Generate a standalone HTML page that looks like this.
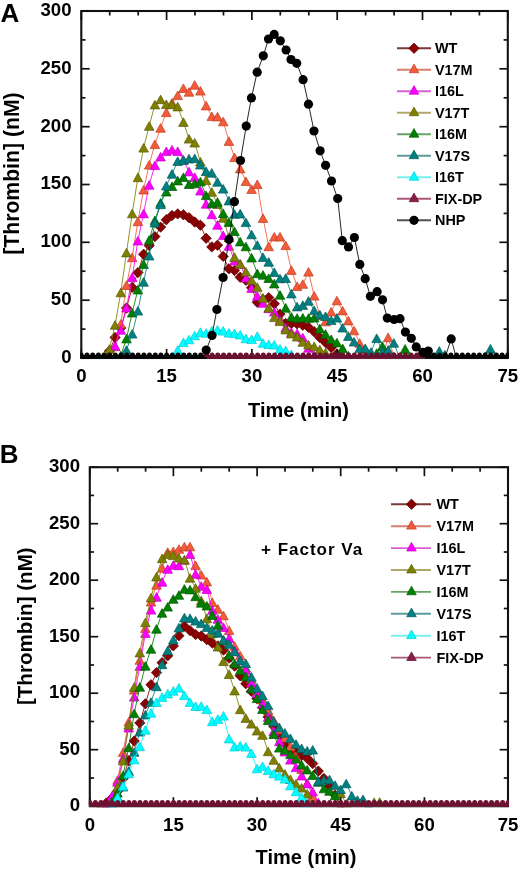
<!DOCTYPE html>
<html><head><meta charset="utf-8"><style>
html,body{margin:0;padding:0;background:#fff;}
svg{display:block;filter:blur(0.35px);}
text{font-family:"Liberation Sans", sans-serif;font-weight:bold;fill:#000;}
.tl{font-size:18.6px;}
.lg{font-size:14.4px;}
.pl{font-size:26px;}
.at{font-size:20px;}
.fv{font-size:17px;letter-spacing:1.0px;}
</style></head><body>
<svg width="520" height="871" viewBox="0 0 520 871">
<rect width="520" height="871" fill="#fff"/>
<defs><clipPath id="ca"><rect x="80.3" y="5" width="428.5" height="354"/></clipPath><clipPath id="cb"><rect x="88.8" y="461.2" width="420.2" height="346.00000000000006"/></clipPath></defs><text x="71.5" y="362.8" text-anchor="end" class="tl">0</text><text x="71.5" y="305.0" text-anchor="end" class="tl">50</text><text x="71.5" y="247.1" text-anchor="end" class="tl">100</text><text x="71.5" y="189.3" text-anchor="end" class="tl">150</text><text x="71.5" y="131.5" text-anchor="end" class="tl">200</text><text x="71.5" y="73.6" text-anchor="end" class="tl">250</text><text x="71.5" y="15.8" text-anchor="end" class="tl">300</text><text x="81.3" y="382" text-anchor="middle" class="tl">0</text><text x="166.6" y="382" text-anchor="middle" class="tl">15</text><text x="251.9" y="382" text-anchor="middle" class="tl">30</text><text x="337.2" y="382" text-anchor="middle" class="tl">45</text><text x="422.5" y="382" text-anchor="middle" class="tl">60</text><text x="507.8" y="382" text-anchor="middle" class="tl">75</text><rect x="81.3" y="11" width="426.5" height="347" fill="none" stroke="#111" stroke-width="2.1"/><g clip-path="url(#ca)"><path d="M81.0 358.0L86.7 358.0L92.4 358.0L98.1 358.0L103.7 358.0L109.4 351.1L115.1 337.5L120.8 328.0L126.5 308.0L132.2 287.4L137.9 272.6L143.6 254.3L149.2 245.6L154.9 236.6L160.6 227.1L166.3 219.7L172.0 215.5L177.7 213.9L183.4 214.8L189.0 217.7L194.7 222.0L200.4 225.2L206.1 238.3L211.8 246.9L217.5 245.2L223.2 256.4L228.9 268.8L234.5 270.5L240.2 277.3L245.9 280.3L251.6 287.7L257.3 302.3L263.0 299.6L268.7 297.6L274.3 303.8L280.0 314.1L285.7 323.5L291.4 323.5L297.1 323.8L302.8 325.2L308.5 327.3L314.2 331.7L319.8 337.5L325.5 342.5L331.2 347.5L336.9 353.9L342.6 358.0L348.3 358.0L354.0 358.0L359.6 358.0L365.3 358.0L371.0 358.0L376.7 358.0L382.4 358.0L388.1 358.0L393.8 358.0L399.5 358.0L405.1 358.0L410.8 358.0L416.5 358.0L422.2 358.0L427.9 358.0L433.6 358.0L439.3 358.0L444.9 358.0L450.6 358.0L456.3 358.0L462.0 358.0L467.7 358.0L473.4 358.0L479.1 358.0L484.8 358.0L490.4 358.0L496.1 358.0L501.8 358.0L507.5 358.0" fill="none" stroke="#8b0000" stroke-width="1.0" stroke-opacity="0.85"/><path d="M109.4 345.9L114.6 351.1L109.4 356.3L104.2 351.1Z" fill="#8b0000" stroke="#5a0000" stroke-width="0.7"/><path d="M115.1 332.3L120.3 337.5L115.1 342.7L109.9 337.5Z" fill="#8b0000" stroke="#5a0000" stroke-width="0.7"/><path d="M120.8 322.8L126.0 328.0L120.8 333.2L115.6 328.0Z" fill="#8b0000" stroke="#5a0000" stroke-width="0.7"/><path d="M126.5 302.8L131.7 308.0L126.5 313.2L121.3 308.0Z" fill="#8b0000" stroke="#5a0000" stroke-width="0.7"/><path d="M132.2 282.2L137.4 287.4L132.2 292.6L127.0 287.4Z" fill="#8b0000" stroke="#5a0000" stroke-width="0.7"/><path d="M137.9 267.4L143.1 272.6L137.9 277.8L132.7 272.6Z" fill="#8b0000" stroke="#5a0000" stroke-width="0.7"/><path d="M143.6 249.1L148.8 254.3L143.6 259.5L138.4 254.3Z" fill="#8b0000" stroke="#5a0000" stroke-width="0.7"/><path d="M149.2 240.4L154.4 245.6L149.2 250.8L144.0 245.6Z" fill="#8b0000" stroke="#5a0000" stroke-width="0.7"/><path d="M154.9 231.4L160.1 236.6L154.9 241.8L149.7 236.6Z" fill="#8b0000" stroke="#5a0000" stroke-width="0.7"/><path d="M160.6 221.9L165.8 227.1L160.6 232.3L155.4 227.1Z" fill="#8b0000" stroke="#5a0000" stroke-width="0.7"/><path d="M166.3 214.5L171.5 219.7L166.3 224.9L161.1 219.7Z" fill="#8b0000" stroke="#5a0000" stroke-width="0.7"/><path d="M172.0 210.3L177.2 215.5L172.0 220.7L166.8 215.5Z" fill="#8b0000" stroke="#5a0000" stroke-width="0.7"/><path d="M177.7 208.7L182.9 213.9L177.7 219.1L172.5 213.9Z" fill="#8b0000" stroke="#5a0000" stroke-width="0.7"/><path d="M183.4 209.6L188.6 214.8L183.4 220.0L178.2 214.8Z" fill="#8b0000" stroke="#5a0000" stroke-width="0.7"/><path d="M189.0 212.5L194.2 217.7L189.0 222.9L183.8 217.7Z" fill="#8b0000" stroke="#5a0000" stroke-width="0.7"/><path d="M194.7 216.8L199.9 222.0L194.7 227.2L189.5 222.0Z" fill="#8b0000" stroke="#5a0000" stroke-width="0.7"/><path d="M200.4 220.0L205.6 225.2L200.4 230.4L195.2 225.2Z" fill="#8b0000" stroke="#5a0000" stroke-width="0.7"/><path d="M206.1 233.1L211.3 238.3L206.1 243.5L200.9 238.3Z" fill="#8b0000" stroke="#5a0000" stroke-width="0.7"/><path d="M211.8 241.7L217.0 246.9L211.8 252.1L206.6 246.9Z" fill="#8b0000" stroke="#5a0000" stroke-width="0.7"/><path d="M217.5 240.0L222.7 245.2L217.5 250.4L212.3 245.2Z" fill="#8b0000" stroke="#5a0000" stroke-width="0.7"/><path d="M223.2 251.2L228.4 256.4L223.2 261.6L218.0 256.4Z" fill="#8b0000" stroke="#5a0000" stroke-width="0.7"/><path d="M228.9 263.6L234.1 268.8L228.9 274.0L223.7 268.8Z" fill="#8b0000" stroke="#5a0000" stroke-width="0.7"/><path d="M234.5 265.3L239.7 270.5L234.5 275.7L229.3 270.5Z" fill="#8b0000" stroke="#5a0000" stroke-width="0.7"/><path d="M240.2 272.1L245.4 277.3L240.2 282.5L235.0 277.3Z" fill="#8b0000" stroke="#5a0000" stroke-width="0.7"/><path d="M245.9 275.1L251.1 280.3L245.9 285.5L240.7 280.3Z" fill="#8b0000" stroke="#5a0000" stroke-width="0.7"/><path d="M251.6 282.5L256.8 287.7L251.6 292.9L246.4 287.7Z" fill="#8b0000" stroke="#5a0000" stroke-width="0.7"/><path d="M257.3 297.1L262.5 302.3L257.3 307.5L252.1 302.3Z" fill="#8b0000" stroke="#5a0000" stroke-width="0.7"/><path d="M263.0 294.4L268.2 299.6L263.0 304.8L257.8 299.6Z" fill="#8b0000" stroke="#5a0000" stroke-width="0.7"/><path d="M268.7 292.4L273.9 297.6L268.7 302.8L263.5 297.6Z" fill="#8b0000" stroke="#5a0000" stroke-width="0.7"/><path d="M274.3 298.6L279.5 303.8L274.3 309.0L269.1 303.8Z" fill="#8b0000" stroke="#5a0000" stroke-width="0.7"/><path d="M280.0 308.9L285.2 314.1L280.0 319.3L274.8 314.1Z" fill="#8b0000" stroke="#5a0000" stroke-width="0.7"/><path d="M285.7 318.3L290.9 323.5L285.7 328.7L280.5 323.5Z" fill="#8b0000" stroke="#5a0000" stroke-width="0.7"/><path d="M291.4 318.3L296.6 323.5L291.4 328.7L286.2 323.5Z" fill="#8b0000" stroke="#5a0000" stroke-width="0.7"/><path d="M297.1 318.6L302.3 323.8L297.1 329.0L291.9 323.8Z" fill="#8b0000" stroke="#5a0000" stroke-width="0.7"/><path d="M302.8 320.0L308.0 325.2L302.8 330.4L297.6 325.2Z" fill="#8b0000" stroke="#5a0000" stroke-width="0.7"/><path d="M308.5 322.1L313.7 327.3L308.5 332.5L303.3 327.3Z" fill="#8b0000" stroke="#5a0000" stroke-width="0.7"/><path d="M314.2 326.5L319.4 331.7L314.2 336.9L309.0 331.7Z" fill="#8b0000" stroke="#5a0000" stroke-width="0.7"/><path d="M319.8 332.3L325.0 337.5L319.8 342.7L314.6 337.5Z" fill="#8b0000" stroke="#5a0000" stroke-width="0.7"/><path d="M325.5 337.3L330.7 342.5L325.5 347.7L320.3 342.5Z" fill="#8b0000" stroke="#5a0000" stroke-width="0.7"/><path d="M331.2 342.3L336.4 347.5L331.2 352.7L326.0 347.5Z" fill="#8b0000" stroke="#5a0000" stroke-width="0.7"/><path d="M336.9 348.7L342.1 353.9L336.9 359.1L331.7 353.9Z" fill="#8b0000" stroke="#5a0000" stroke-width="0.7"/></g><g clip-path="url(#ca)"><path d="M81.0 358.0L86.7 358.0L92.4 358.0L98.1 358.0L103.7 358.0L109.4 356.7L115.1 346.4L120.8 323.9L126.5 285.1L132.2 257.4L137.9 221.4L143.6 189.7L149.2 164.8L154.9 144.3L160.6 127.9L166.3 112.3L172.0 102.7L177.7 95.3L183.4 88.2L189.0 91.9L194.7 84.9L200.4 90.8L206.1 105.6L211.8 116.3L217.5 116.6L223.2 121.5L228.9 141.1L234.5 157.3L240.2 168.6L245.9 181.2L251.6 189.2L257.3 184.2L263.0 218.1L268.7 246.4L274.3 236.7L280.0 236.7L285.7 245.3L291.4 270.1L297.1 286.2L302.8 284.0L308.5 271.8L314.2 295.8L319.8 315.5L325.5 321.5L331.2 311.7L336.9 300.5L342.6 310.6L348.3 320.6L354.0 330.5L359.6 343.0L365.3 351.2L371.0 357.3L376.7 358.0L382.4 358.0L388.1 337.4L393.8 356.3L399.5 358.0L405.1 358.0L410.8 358.0L416.5 358.0L422.2 358.0L427.9 358.0L433.6 358.0L439.3 358.0L444.9 358.0L450.6 358.0L456.3 358.0L462.0 358.0L467.7 358.0L473.4 358.0L479.1 358.0L484.8 358.0L490.4 358.0L496.1 358.0L501.8 358.0L507.5 358.0" fill="none" stroke="#f25c3a" stroke-width="1.0" stroke-opacity="0.85"/><path d="M109.4 352.4L114.2 361.0L104.6 361.0Z" fill="#f25c3a" stroke="#c23a20" stroke-width="0.7"/><path d="M115.1 342.1L119.9 350.7L110.3 350.7Z" fill="#f25c3a" stroke="#c23a20" stroke-width="0.7"/><path d="M120.8 319.6L125.6 328.2L116.0 328.2Z" fill="#f25c3a" stroke="#c23a20" stroke-width="0.7"/><path d="M126.5 280.8L131.3 289.4L121.7 289.4Z" fill="#f25c3a" stroke="#c23a20" stroke-width="0.7"/><path d="M132.2 253.1L137.0 261.7L127.4 261.7Z" fill="#f25c3a" stroke="#c23a20" stroke-width="0.7"/><path d="M137.9 217.1L142.7 225.7L133.1 225.7Z" fill="#f25c3a" stroke="#c23a20" stroke-width="0.7"/><path d="M143.6 185.4L148.4 194.0L138.8 194.0Z" fill="#f25c3a" stroke="#c23a20" stroke-width="0.7"/><path d="M149.2 160.5L154.0 169.1L144.4 169.1Z" fill="#f25c3a" stroke="#c23a20" stroke-width="0.7"/><path d="M154.9 140.0L159.7 148.6L150.1 148.6Z" fill="#f25c3a" stroke="#c23a20" stroke-width="0.7"/><path d="M160.6 123.6L165.4 132.2L155.8 132.2Z" fill="#f25c3a" stroke="#c23a20" stroke-width="0.7"/><path d="M166.3 108.0L171.1 116.6L161.5 116.6Z" fill="#f25c3a" stroke="#c23a20" stroke-width="0.7"/><path d="M172.0 98.4L176.8 107.0L167.2 107.0Z" fill="#f25c3a" stroke="#c23a20" stroke-width="0.7"/><path d="M177.7 91.0L182.5 99.6L172.9 99.6Z" fill="#f25c3a" stroke="#c23a20" stroke-width="0.7"/><path d="M183.4 83.9L188.2 92.5L178.6 92.5Z" fill="#f25c3a" stroke="#c23a20" stroke-width="0.7"/><path d="M189.0 87.6L193.8 96.2L184.2 96.2Z" fill="#f25c3a" stroke="#c23a20" stroke-width="0.7"/><path d="M194.7 80.6L199.5 89.2L189.9 89.2Z" fill="#f25c3a" stroke="#c23a20" stroke-width="0.7"/><path d="M200.4 86.5L205.2 95.1L195.6 95.1Z" fill="#f25c3a" stroke="#c23a20" stroke-width="0.7"/><path d="M206.1 101.3L210.9 109.9L201.3 109.9Z" fill="#f25c3a" stroke="#c23a20" stroke-width="0.7"/><path d="M211.8 112.0L216.6 120.6L207.0 120.6Z" fill="#f25c3a" stroke="#c23a20" stroke-width="0.7"/><path d="M217.5 112.3L222.3 120.9L212.7 120.9Z" fill="#f25c3a" stroke="#c23a20" stroke-width="0.7"/><path d="M223.2 117.2L228.0 125.8L218.4 125.8Z" fill="#f25c3a" stroke="#c23a20" stroke-width="0.7"/><path d="M228.9 136.8L233.7 145.4L224.1 145.4Z" fill="#f25c3a" stroke="#c23a20" stroke-width="0.7"/><path d="M234.5 153.0L239.3 161.6L229.7 161.6Z" fill="#f25c3a" stroke="#c23a20" stroke-width="0.7"/><path d="M240.2 164.3L245.0 172.9L235.4 172.9Z" fill="#f25c3a" stroke="#c23a20" stroke-width="0.7"/><path d="M245.9 176.9L250.7 185.5L241.1 185.5Z" fill="#f25c3a" stroke="#c23a20" stroke-width="0.7"/><path d="M251.6 184.9L256.4 193.5L246.8 193.5Z" fill="#f25c3a" stroke="#c23a20" stroke-width="0.7"/><path d="M257.3 179.9L262.1 188.5L252.5 188.5Z" fill="#f25c3a" stroke="#c23a20" stroke-width="0.7"/><path d="M263.0 213.8L267.8 222.4L258.2 222.4Z" fill="#f25c3a" stroke="#c23a20" stroke-width="0.7"/><path d="M268.7 242.1L273.5 250.7L263.9 250.7Z" fill="#f25c3a" stroke="#c23a20" stroke-width="0.7"/><path d="M274.3 232.4L279.1 241.0L269.5 241.0Z" fill="#f25c3a" stroke="#c23a20" stroke-width="0.7"/><path d="M280.0 232.4L284.8 241.0L275.2 241.0Z" fill="#f25c3a" stroke="#c23a20" stroke-width="0.7"/><path d="M285.7 241.0L290.5 249.6L280.9 249.6Z" fill="#f25c3a" stroke="#c23a20" stroke-width="0.7"/><path d="M291.4 265.8L296.2 274.4L286.6 274.4Z" fill="#f25c3a" stroke="#c23a20" stroke-width="0.7"/><path d="M297.1 281.9L301.9 290.5L292.3 290.5Z" fill="#f25c3a" stroke="#c23a20" stroke-width="0.7"/><path d="M302.8 279.7L307.6 288.3L298.0 288.3Z" fill="#f25c3a" stroke="#c23a20" stroke-width="0.7"/><path d="M308.5 267.5L313.3 276.1L303.7 276.1Z" fill="#f25c3a" stroke="#c23a20" stroke-width="0.7"/><path d="M314.2 291.5L319.0 300.1L309.4 300.1Z" fill="#f25c3a" stroke="#c23a20" stroke-width="0.7"/><path d="M319.8 311.2L324.6 319.8L315.0 319.8Z" fill="#f25c3a" stroke="#c23a20" stroke-width="0.7"/><path d="M325.5 317.2L330.3 325.8L320.7 325.8Z" fill="#f25c3a" stroke="#c23a20" stroke-width="0.7"/><path d="M331.2 307.4L336.0 316.0L326.4 316.0Z" fill="#f25c3a" stroke="#c23a20" stroke-width="0.7"/><path d="M336.9 296.2L341.7 304.8L332.1 304.8Z" fill="#f25c3a" stroke="#c23a20" stroke-width="0.7"/><path d="M342.6 306.3L347.4 314.9L337.8 314.9Z" fill="#f25c3a" stroke="#c23a20" stroke-width="0.7"/><path d="M348.3 316.3L353.1 324.9L343.5 324.9Z" fill="#f25c3a" stroke="#c23a20" stroke-width="0.7"/><path d="M354.0 326.2L358.8 334.8L349.2 334.8Z" fill="#f25c3a" stroke="#c23a20" stroke-width="0.7"/><path d="M359.6 338.7L364.4 347.3L354.8 347.3Z" fill="#f25c3a" stroke="#c23a20" stroke-width="0.7"/><path d="M365.3 346.9L370.1 355.5L360.5 355.5Z" fill="#f25c3a" stroke="#c23a20" stroke-width="0.7"/><path d="M371.0 353.0L375.8 361.6L366.2 361.6Z" fill="#f25c3a" stroke="#c23a20" stroke-width="0.7"/><path d="M388.1 333.1L392.9 341.7L383.3 341.7Z" fill="#f25c3a" stroke="#c23a20" stroke-width="0.7"/><path d="M393.8 352.0L398.6 360.6L389.0 360.6Z" fill="#f25c3a" stroke="#c23a20" stroke-width="0.7"/></g><g clip-path="url(#ca)"><path d="M81.0 358.0L86.7 358.0L92.4 358.0L98.1 358.0L103.7 358.0L109.4 355.9L115.1 345.9L120.8 329.9L126.5 307.7L132.2 277.1L137.9 240.7L143.6 213.5L149.2 184.9L154.9 165.3L160.6 156.7L166.3 151.3L172.0 149.7L177.7 151.2L183.4 159.8L189.0 171.6L194.7 177.1L200.4 190.7L206.1 203.9L211.8 214.4L217.5 224.9L223.2 235.3L228.9 245.9L234.5 260.8L240.2 263.9L245.9 277.8L251.6 288.1L257.3 295.9L263.0 303.0L268.7 308.4L274.3 311.8L280.0 320.0L285.7 327.6L291.4 332.2L297.1 333.4L302.8 337.6L308.5 347.9L314.2 355.2L319.8 358.0L325.5 358.0L331.2 358.0L336.9 358.0L342.6 358.0L348.3 358.0L354.0 358.0L359.6 358.0L365.3 358.0L371.0 358.0L376.7 358.0L382.4 357.5L388.1 351.1L393.8 358.0L399.5 358.0L405.1 358.0L410.8 358.0L416.5 358.0L422.2 358.0L427.9 358.0L433.6 358.0L439.3 358.0L444.9 358.0L450.6 358.0L456.3 358.0L462.0 358.0L467.7 358.0L473.4 358.0L479.1 358.0L484.8 358.0L490.4 358.0L496.1 358.0L501.8 358.0L507.5 358.0" fill="none" stroke="#ff00ff" stroke-width="1.0" stroke-opacity="0.85"/><path d="M109.4 351.6L114.2 360.2L104.6 360.2Z" fill="#ff00ff" stroke="#c000c0" stroke-width="0.7"/><path d="M115.1 341.6L119.9 350.2L110.3 350.2Z" fill="#ff00ff" stroke="#c000c0" stroke-width="0.7"/><path d="M120.8 325.6L125.6 334.2L116.0 334.2Z" fill="#ff00ff" stroke="#c000c0" stroke-width="0.7"/><path d="M126.5 303.4L131.3 312.0L121.7 312.0Z" fill="#ff00ff" stroke="#c000c0" stroke-width="0.7"/><path d="M132.2 272.8L137.0 281.4L127.4 281.4Z" fill="#ff00ff" stroke="#c000c0" stroke-width="0.7"/><path d="M137.9 236.4L142.7 245.0L133.1 245.0Z" fill="#ff00ff" stroke="#c000c0" stroke-width="0.7"/><path d="M143.6 209.2L148.4 217.8L138.8 217.8Z" fill="#ff00ff" stroke="#c000c0" stroke-width="0.7"/><path d="M149.2 180.6L154.0 189.2L144.4 189.2Z" fill="#ff00ff" stroke="#c000c0" stroke-width="0.7"/><path d="M154.9 161.0L159.7 169.6L150.1 169.6Z" fill="#ff00ff" stroke="#c000c0" stroke-width="0.7"/><path d="M160.6 152.4L165.4 161.0L155.8 161.0Z" fill="#ff00ff" stroke="#c000c0" stroke-width="0.7"/><path d="M166.3 147.0L171.1 155.6L161.5 155.6Z" fill="#ff00ff" stroke="#c000c0" stroke-width="0.7"/><path d="M172.0 145.4L176.8 154.0L167.2 154.0Z" fill="#ff00ff" stroke="#c000c0" stroke-width="0.7"/><path d="M177.7 146.9L182.5 155.5L172.9 155.5Z" fill="#ff00ff" stroke="#c000c0" stroke-width="0.7"/><path d="M183.4 155.5L188.2 164.1L178.6 164.1Z" fill="#ff00ff" stroke="#c000c0" stroke-width="0.7"/><path d="M189.0 167.3L193.8 175.9L184.2 175.9Z" fill="#ff00ff" stroke="#c000c0" stroke-width="0.7"/><path d="M194.7 172.8L199.5 181.4L189.9 181.4Z" fill="#ff00ff" stroke="#c000c0" stroke-width="0.7"/><path d="M200.4 186.4L205.2 195.0L195.6 195.0Z" fill="#ff00ff" stroke="#c000c0" stroke-width="0.7"/><path d="M206.1 199.6L210.9 208.2L201.3 208.2Z" fill="#ff00ff" stroke="#c000c0" stroke-width="0.7"/><path d="M211.8 210.1L216.6 218.7L207.0 218.7Z" fill="#ff00ff" stroke="#c000c0" stroke-width="0.7"/><path d="M217.5 220.6L222.3 229.2L212.7 229.2Z" fill="#ff00ff" stroke="#c000c0" stroke-width="0.7"/><path d="M223.2 231.0L228.0 239.6L218.4 239.6Z" fill="#ff00ff" stroke="#c000c0" stroke-width="0.7"/><path d="M228.9 241.6L233.7 250.2L224.1 250.2Z" fill="#ff00ff" stroke="#c000c0" stroke-width="0.7"/><path d="M234.5 256.5L239.3 265.1L229.7 265.1Z" fill="#ff00ff" stroke="#c000c0" stroke-width="0.7"/><path d="M240.2 259.6L245.0 268.2L235.4 268.2Z" fill="#ff00ff" stroke="#c000c0" stroke-width="0.7"/><path d="M245.9 273.5L250.7 282.1L241.1 282.1Z" fill="#ff00ff" stroke="#c000c0" stroke-width="0.7"/><path d="M251.6 283.8L256.4 292.4L246.8 292.4Z" fill="#ff00ff" stroke="#c000c0" stroke-width="0.7"/><path d="M257.3 291.6L262.1 300.2L252.5 300.2Z" fill="#ff00ff" stroke="#c000c0" stroke-width="0.7"/><path d="M263.0 298.7L267.8 307.3L258.2 307.3Z" fill="#ff00ff" stroke="#c000c0" stroke-width="0.7"/><path d="M268.7 304.1L273.5 312.7L263.9 312.7Z" fill="#ff00ff" stroke="#c000c0" stroke-width="0.7"/><path d="M274.3 307.5L279.1 316.1L269.5 316.1Z" fill="#ff00ff" stroke="#c000c0" stroke-width="0.7"/><path d="M280.0 315.7L284.8 324.3L275.2 324.3Z" fill="#ff00ff" stroke="#c000c0" stroke-width="0.7"/><path d="M285.7 323.3L290.5 331.9L280.9 331.9Z" fill="#ff00ff" stroke="#c000c0" stroke-width="0.7"/><path d="M291.4 327.9L296.2 336.5L286.6 336.5Z" fill="#ff00ff" stroke="#c000c0" stroke-width="0.7"/><path d="M297.1 329.1L301.9 337.7L292.3 337.7Z" fill="#ff00ff" stroke="#c000c0" stroke-width="0.7"/><path d="M302.8 333.3L307.6 341.9L298.0 341.9Z" fill="#ff00ff" stroke="#c000c0" stroke-width="0.7"/><path d="M308.5 343.6L313.3 352.2L303.7 352.2Z" fill="#ff00ff" stroke="#c000c0" stroke-width="0.7"/><path d="M314.2 350.9L319.0 359.5L309.4 359.5Z" fill="#ff00ff" stroke="#c000c0" stroke-width="0.7"/><path d="M382.4 353.2L387.2 361.8L377.6 361.8Z" fill="#ff00ff" stroke="#c000c0" stroke-width="0.7"/><path d="M388.1 346.8L392.9 355.4L383.3 355.4Z" fill="#ff00ff" stroke="#c000c0" stroke-width="0.7"/></g><g clip-path="url(#ca)"><path d="M81.0 358.0L86.7 358.0L92.4 358.0L98.1 358.0L103.7 357.2L109.4 349.0L115.1 324.9L120.8 292.5L126.5 252.6L132.2 213.5L137.9 177.4L143.6 147.8L149.2 126.0L154.9 104.6L160.6 99.4L166.3 104.2L172.0 104.4L177.7 106.6L183.4 122.1L189.0 138.8L194.7 142.7L200.4 161.7L206.1 180.2L211.8 192.0L217.5 204.1L223.2 217.9L228.9 237.2L234.5 257.1L240.2 264.0L245.9 271.7L251.6 280.0L257.3 287.0L263.0 297.9L268.7 307.8L274.3 317.3L280.0 321.3L285.7 329.6L291.4 333.7L297.1 336.7L302.8 342.0L308.5 344.7L314.2 346.3L319.8 349.5L325.5 352.5L331.2 357.3L336.9 358.0L342.6 358.0L348.3 358.0L354.0 358.0L359.6 358.0L365.3 358.0L371.0 358.0L376.7 358.0L382.4 358.0L388.1 358.0L393.8 358.0L399.5 358.0L405.1 358.0L410.8 358.0L416.5 358.0L422.2 358.0L427.9 358.0L433.6 358.0L439.3 358.0L444.9 358.0L450.6 358.0L456.3 358.0L462.0 358.0L467.7 358.0L473.4 358.0L479.1 358.0L484.8 358.0L490.4 358.0L496.1 358.0L501.8 358.0L507.5 358.0" fill="none" stroke="#808000" stroke-width="1.0" stroke-opacity="0.85"/><path d="M103.7 352.9L108.5 361.5L98.9 361.5Z" fill="#808000" stroke="#5a5a00" stroke-width="0.7"/><path d="M109.4 344.7L114.2 353.3L104.6 353.3Z" fill="#808000" stroke="#5a5a00" stroke-width="0.7"/><path d="M115.1 320.6L119.9 329.2L110.3 329.2Z" fill="#808000" stroke="#5a5a00" stroke-width="0.7"/><path d="M120.8 288.2L125.6 296.8L116.0 296.8Z" fill="#808000" stroke="#5a5a00" stroke-width="0.7"/><path d="M126.5 248.3L131.3 256.9L121.7 256.9Z" fill="#808000" stroke="#5a5a00" stroke-width="0.7"/><path d="M132.2 209.2L137.0 217.8L127.4 217.8Z" fill="#808000" stroke="#5a5a00" stroke-width="0.7"/><path d="M137.9 173.1L142.7 181.7L133.1 181.7Z" fill="#808000" stroke="#5a5a00" stroke-width="0.7"/><path d="M143.6 143.5L148.4 152.1L138.8 152.1Z" fill="#808000" stroke="#5a5a00" stroke-width="0.7"/><path d="M149.2 121.7L154.0 130.3L144.4 130.3Z" fill="#808000" stroke="#5a5a00" stroke-width="0.7"/><path d="M154.9 100.3L159.7 108.9L150.1 108.9Z" fill="#808000" stroke="#5a5a00" stroke-width="0.7"/><path d="M160.6 95.1L165.4 103.7L155.8 103.7Z" fill="#808000" stroke="#5a5a00" stroke-width="0.7"/><path d="M166.3 99.9L171.1 108.5L161.5 108.5Z" fill="#808000" stroke="#5a5a00" stroke-width="0.7"/><path d="M172.0 100.1L176.8 108.7L167.2 108.7Z" fill="#808000" stroke="#5a5a00" stroke-width="0.7"/><path d="M177.7 102.3L182.5 110.9L172.9 110.9Z" fill="#808000" stroke="#5a5a00" stroke-width="0.7"/><path d="M183.4 117.8L188.2 126.4L178.6 126.4Z" fill="#808000" stroke="#5a5a00" stroke-width="0.7"/><path d="M189.0 134.5L193.8 143.1L184.2 143.1Z" fill="#808000" stroke="#5a5a00" stroke-width="0.7"/><path d="M194.7 138.4L199.5 147.0L189.9 147.0Z" fill="#808000" stroke="#5a5a00" stroke-width="0.7"/><path d="M200.4 157.4L205.2 166.0L195.6 166.0Z" fill="#808000" stroke="#5a5a00" stroke-width="0.7"/><path d="M206.1 175.9L210.9 184.5L201.3 184.5Z" fill="#808000" stroke="#5a5a00" stroke-width="0.7"/><path d="M211.8 187.7L216.6 196.3L207.0 196.3Z" fill="#808000" stroke="#5a5a00" stroke-width="0.7"/><path d="M217.5 199.8L222.3 208.4L212.7 208.4Z" fill="#808000" stroke="#5a5a00" stroke-width="0.7"/><path d="M223.2 213.6L228.0 222.2L218.4 222.2Z" fill="#808000" stroke="#5a5a00" stroke-width="0.7"/><path d="M228.9 232.9L233.7 241.5L224.1 241.5Z" fill="#808000" stroke="#5a5a00" stroke-width="0.7"/><path d="M234.5 252.8L239.3 261.4L229.7 261.4Z" fill="#808000" stroke="#5a5a00" stroke-width="0.7"/><path d="M240.2 259.7L245.0 268.3L235.4 268.3Z" fill="#808000" stroke="#5a5a00" stroke-width="0.7"/><path d="M245.9 267.4L250.7 276.0L241.1 276.0Z" fill="#808000" stroke="#5a5a00" stroke-width="0.7"/><path d="M251.6 275.7L256.4 284.3L246.8 284.3Z" fill="#808000" stroke="#5a5a00" stroke-width="0.7"/><path d="M257.3 282.7L262.1 291.3L252.5 291.3Z" fill="#808000" stroke="#5a5a00" stroke-width="0.7"/><path d="M263.0 293.6L267.8 302.2L258.2 302.2Z" fill="#808000" stroke="#5a5a00" stroke-width="0.7"/><path d="M268.7 303.5L273.5 312.1L263.9 312.1Z" fill="#808000" stroke="#5a5a00" stroke-width="0.7"/><path d="M274.3 313.0L279.1 321.6L269.5 321.6Z" fill="#808000" stroke="#5a5a00" stroke-width="0.7"/><path d="M280.0 317.0L284.8 325.6L275.2 325.6Z" fill="#808000" stroke="#5a5a00" stroke-width="0.7"/><path d="M285.7 325.3L290.5 333.9L280.9 333.9Z" fill="#808000" stroke="#5a5a00" stroke-width="0.7"/><path d="M291.4 329.4L296.2 338.0L286.6 338.0Z" fill="#808000" stroke="#5a5a00" stroke-width="0.7"/><path d="M297.1 332.4L301.9 341.0L292.3 341.0Z" fill="#808000" stroke="#5a5a00" stroke-width="0.7"/><path d="M302.8 337.7L307.6 346.3L298.0 346.3Z" fill="#808000" stroke="#5a5a00" stroke-width="0.7"/><path d="M308.5 340.4L313.3 349.0L303.7 349.0Z" fill="#808000" stroke="#5a5a00" stroke-width="0.7"/><path d="M314.2 342.0L319.0 350.6L309.4 350.6Z" fill="#808000" stroke="#5a5a00" stroke-width="0.7"/><path d="M319.8 345.2L324.6 353.8L315.0 353.8Z" fill="#808000" stroke="#5a5a00" stroke-width="0.7"/><path d="M325.5 348.2L330.3 356.8L320.7 356.8Z" fill="#808000" stroke="#5a5a00" stroke-width="0.7"/><path d="M331.2 353.0L336.0 361.6L326.4 361.6Z" fill="#808000" stroke="#5a5a00" stroke-width="0.7"/></g><g clip-path="url(#ca)"><path d="M81.0 358.0L86.7 358.0L92.4 358.0L98.1 358.0L103.7 358.0L109.4 358.0L115.1 358.0L120.8 355.6L126.5 338.6L132.2 312.7L137.9 289.7L143.6 264.1L149.2 239.9L154.9 220.3L160.6 202.8L166.3 191.7L172.0 186.2L177.7 180.6L183.4 177.2L189.0 184.2L194.7 183.5L200.4 181.6L206.1 195.3L211.8 203.4L217.5 201.9L223.2 213.2L228.9 222.1L234.5 231.2L240.2 241.6L245.9 246.5L251.6 257.7L257.3 273.4L263.0 274.9L268.7 278.2L274.3 283.6L280.0 294.9L285.7 307.9L291.4 316.9L297.1 318.0L302.8 317.7L308.5 318.0L314.2 317.7L319.8 328.6L325.5 333.9L331.2 339.3L336.9 342.6L342.6 348.3L348.3 355.7L354.0 358.0L359.6 358.0L365.3 358.0L371.0 358.0L376.7 353.1L382.4 346.1L388.1 358.0L393.8 358.0L399.5 358.0L405.1 348.9L410.8 358.0L416.5 358.0L422.2 358.0L427.9 358.0L433.6 358.0L439.3 358.0L444.9 358.0L450.6 358.0L456.3 358.0L462.0 358.0L467.7 358.0L473.4 358.0L479.1 358.0L484.8 358.0L490.4 358.0L496.1 358.0L501.8 358.0L507.5 358.0" fill="none" stroke="#008000" stroke-width="1.0" stroke-opacity="0.85"/><path d="M120.8 351.3L125.6 359.9L116.0 359.9Z" fill="#008000" stroke="#005a00" stroke-width="0.7"/><path d="M126.5 334.3L131.3 342.9L121.7 342.9Z" fill="#008000" stroke="#005a00" stroke-width="0.7"/><path d="M132.2 308.4L137.0 317.0L127.4 317.0Z" fill="#008000" stroke="#005a00" stroke-width="0.7"/><path d="M137.9 285.4L142.7 294.0L133.1 294.0Z" fill="#008000" stroke="#005a00" stroke-width="0.7"/><path d="M143.6 259.8L148.4 268.4L138.8 268.4Z" fill="#008000" stroke="#005a00" stroke-width="0.7"/><path d="M149.2 235.6L154.0 244.2L144.4 244.2Z" fill="#008000" stroke="#005a00" stroke-width="0.7"/><path d="M154.9 216.0L159.7 224.6L150.1 224.6Z" fill="#008000" stroke="#005a00" stroke-width="0.7"/><path d="M160.6 198.5L165.4 207.1L155.8 207.1Z" fill="#008000" stroke="#005a00" stroke-width="0.7"/><path d="M166.3 187.4L171.1 196.0L161.5 196.0Z" fill="#008000" stroke="#005a00" stroke-width="0.7"/><path d="M172.0 181.9L176.8 190.5L167.2 190.5Z" fill="#008000" stroke="#005a00" stroke-width="0.7"/><path d="M177.7 176.3L182.5 184.9L172.9 184.9Z" fill="#008000" stroke="#005a00" stroke-width="0.7"/><path d="M183.4 172.9L188.2 181.5L178.6 181.5Z" fill="#008000" stroke="#005a00" stroke-width="0.7"/><path d="M189.0 179.9L193.8 188.5L184.2 188.5Z" fill="#008000" stroke="#005a00" stroke-width="0.7"/><path d="M194.7 179.2L199.5 187.8L189.9 187.8Z" fill="#008000" stroke="#005a00" stroke-width="0.7"/><path d="M200.4 177.3L205.2 185.9L195.6 185.9Z" fill="#008000" stroke="#005a00" stroke-width="0.7"/><path d="M206.1 191.0L210.9 199.6L201.3 199.6Z" fill="#008000" stroke="#005a00" stroke-width="0.7"/><path d="M211.8 199.1L216.6 207.7L207.0 207.7Z" fill="#008000" stroke="#005a00" stroke-width="0.7"/><path d="M217.5 197.6L222.3 206.2L212.7 206.2Z" fill="#008000" stroke="#005a00" stroke-width="0.7"/><path d="M223.2 208.9L228.0 217.5L218.4 217.5Z" fill="#008000" stroke="#005a00" stroke-width="0.7"/><path d="M228.9 217.8L233.7 226.4L224.1 226.4Z" fill="#008000" stroke="#005a00" stroke-width="0.7"/><path d="M234.5 226.9L239.3 235.5L229.7 235.5Z" fill="#008000" stroke="#005a00" stroke-width="0.7"/><path d="M240.2 237.3L245.0 245.9L235.4 245.9Z" fill="#008000" stroke="#005a00" stroke-width="0.7"/><path d="M245.9 242.2L250.7 250.8L241.1 250.8Z" fill="#008000" stroke="#005a00" stroke-width="0.7"/><path d="M251.6 253.4L256.4 262.0L246.8 262.0Z" fill="#008000" stroke="#005a00" stroke-width="0.7"/><path d="M257.3 269.1L262.1 277.7L252.5 277.7Z" fill="#008000" stroke="#005a00" stroke-width="0.7"/><path d="M263.0 270.6L267.8 279.2L258.2 279.2Z" fill="#008000" stroke="#005a00" stroke-width="0.7"/><path d="M268.7 273.9L273.5 282.5L263.9 282.5Z" fill="#008000" stroke="#005a00" stroke-width="0.7"/><path d="M274.3 279.3L279.1 287.9L269.5 287.9Z" fill="#008000" stroke="#005a00" stroke-width="0.7"/><path d="M280.0 290.6L284.8 299.2L275.2 299.2Z" fill="#008000" stroke="#005a00" stroke-width="0.7"/><path d="M285.7 303.6L290.5 312.2L280.9 312.2Z" fill="#008000" stroke="#005a00" stroke-width="0.7"/><path d="M291.4 312.6L296.2 321.2L286.6 321.2Z" fill="#008000" stroke="#005a00" stroke-width="0.7"/><path d="M297.1 313.7L301.9 322.3L292.3 322.3Z" fill="#008000" stroke="#005a00" stroke-width="0.7"/><path d="M302.8 313.4L307.6 322.0L298.0 322.0Z" fill="#008000" stroke="#005a00" stroke-width="0.7"/><path d="M308.5 313.7L313.3 322.3L303.7 322.3Z" fill="#008000" stroke="#005a00" stroke-width="0.7"/><path d="M314.2 313.4L319.0 322.0L309.4 322.0Z" fill="#008000" stroke="#005a00" stroke-width="0.7"/><path d="M319.8 324.3L324.6 332.9L315.0 332.9Z" fill="#008000" stroke="#005a00" stroke-width="0.7"/><path d="M325.5 329.6L330.3 338.2L320.7 338.2Z" fill="#008000" stroke="#005a00" stroke-width="0.7"/><path d="M331.2 335.0L336.0 343.6L326.4 343.6Z" fill="#008000" stroke="#005a00" stroke-width="0.7"/><path d="M336.9 338.3L341.7 346.9L332.1 346.9Z" fill="#008000" stroke="#005a00" stroke-width="0.7"/><path d="M342.6 344.0L347.4 352.6L337.8 352.6Z" fill="#008000" stroke="#005a00" stroke-width="0.7"/><path d="M348.3 351.4L353.1 360.0L343.5 360.0Z" fill="#008000" stroke="#005a00" stroke-width="0.7"/><path d="M376.7 348.8L381.5 357.4L371.9 357.4Z" fill="#008000" stroke="#005a00" stroke-width="0.7"/><path d="M382.4 341.8L387.2 350.4L377.6 350.4Z" fill="#008000" stroke="#005a00" stroke-width="0.7"/><path d="M405.1 344.6L409.9 353.2L400.3 353.2Z" fill="#008000" stroke="#005a00" stroke-width="0.7"/></g><g clip-path="url(#ca)"><path d="M81.0 358.0L86.7 358.0L92.4 358.0L98.1 358.0L103.7 358.0L109.4 358.0L115.1 358.0L120.8 357.0L126.5 350.0L132.2 333.8L137.9 310.8L143.6 281.9L149.2 255.7L154.9 222.7L160.6 204.4L166.3 185.7L172.0 173.9L177.7 161.1L183.4 160.1L189.0 158.6L194.7 158.4L200.4 164.7L206.1 171.2L211.8 172.9L217.5 181.9L223.2 188.8L228.9 200.6L234.5 214.0L240.2 213.6L245.9 222.3L251.6 234.5L257.3 245.0L263.0 257.2L268.7 261.9L274.3 272.2L280.0 278.5L285.7 278.1L291.4 293.6L297.1 306.6L302.8 305.1L308.5 300.9L314.2 310.3L319.8 314.6L325.5 316.2L331.2 320.3L336.9 317.8L342.6 327.7L348.3 336.1L354.0 341.7L359.6 348.3L365.3 348.3L371.0 352.0L376.7 338.2L382.4 351.5L388.1 349.9L393.8 342.9L399.5 358.0L405.1 358.0L410.8 358.0L416.5 358.0L422.2 358.0L427.9 358.0L433.6 358.0L439.3 350.9L444.9 354.6L450.6 358.0L456.3 358.0L462.0 358.0L467.7 358.0L473.4 358.0L479.1 358.0L484.8 356.7L490.4 348.7L496.1 358.0L501.8 358.0L507.5 358.0" fill="none" stroke="#008080" stroke-width="1.0" stroke-opacity="0.85"/><path d="M120.8 352.7L125.6 361.3L116.0 361.3Z" fill="#008080" stroke="#005a5a" stroke-width="0.7"/><path d="M126.5 345.7L131.3 354.3L121.7 354.3Z" fill="#008080" stroke="#005a5a" stroke-width="0.7"/><path d="M132.2 329.5L137.0 338.1L127.4 338.1Z" fill="#008080" stroke="#005a5a" stroke-width="0.7"/><path d="M137.9 306.5L142.7 315.1L133.1 315.1Z" fill="#008080" stroke="#005a5a" stroke-width="0.7"/><path d="M143.6 277.6L148.4 286.2L138.8 286.2Z" fill="#008080" stroke="#005a5a" stroke-width="0.7"/><path d="M149.2 251.4L154.0 260.0L144.4 260.0Z" fill="#008080" stroke="#005a5a" stroke-width="0.7"/><path d="M154.9 218.4L159.7 227.0L150.1 227.0Z" fill="#008080" stroke="#005a5a" stroke-width="0.7"/><path d="M160.6 200.1L165.4 208.7L155.8 208.7Z" fill="#008080" stroke="#005a5a" stroke-width="0.7"/><path d="M166.3 181.4L171.1 190.0L161.5 190.0Z" fill="#008080" stroke="#005a5a" stroke-width="0.7"/><path d="M172.0 169.6L176.8 178.2L167.2 178.2Z" fill="#008080" stroke="#005a5a" stroke-width="0.7"/><path d="M177.7 156.8L182.5 165.4L172.9 165.4Z" fill="#008080" stroke="#005a5a" stroke-width="0.7"/><path d="M183.4 155.8L188.2 164.4L178.6 164.4Z" fill="#008080" stroke="#005a5a" stroke-width="0.7"/><path d="M189.0 154.3L193.8 162.9L184.2 162.9Z" fill="#008080" stroke="#005a5a" stroke-width="0.7"/><path d="M194.7 154.1L199.5 162.7L189.9 162.7Z" fill="#008080" stroke="#005a5a" stroke-width="0.7"/><path d="M200.4 160.4L205.2 169.0L195.6 169.0Z" fill="#008080" stroke="#005a5a" stroke-width="0.7"/><path d="M206.1 166.9L210.9 175.5L201.3 175.5Z" fill="#008080" stroke="#005a5a" stroke-width="0.7"/><path d="M211.8 168.6L216.6 177.2L207.0 177.2Z" fill="#008080" stroke="#005a5a" stroke-width="0.7"/><path d="M217.5 177.6L222.3 186.2L212.7 186.2Z" fill="#008080" stroke="#005a5a" stroke-width="0.7"/><path d="M223.2 184.5L228.0 193.1L218.4 193.1Z" fill="#008080" stroke="#005a5a" stroke-width="0.7"/><path d="M228.9 196.3L233.7 204.9L224.1 204.9Z" fill="#008080" stroke="#005a5a" stroke-width="0.7"/><path d="M234.5 209.7L239.3 218.3L229.7 218.3Z" fill="#008080" stroke="#005a5a" stroke-width="0.7"/><path d="M240.2 209.3L245.0 217.9L235.4 217.9Z" fill="#008080" stroke="#005a5a" stroke-width="0.7"/><path d="M245.9 218.0L250.7 226.6L241.1 226.6Z" fill="#008080" stroke="#005a5a" stroke-width="0.7"/><path d="M251.6 230.2L256.4 238.8L246.8 238.8Z" fill="#008080" stroke="#005a5a" stroke-width="0.7"/><path d="M257.3 240.7L262.1 249.3L252.5 249.3Z" fill="#008080" stroke="#005a5a" stroke-width="0.7"/><path d="M263.0 252.9L267.8 261.5L258.2 261.5Z" fill="#008080" stroke="#005a5a" stroke-width="0.7"/><path d="M268.7 257.6L273.5 266.2L263.9 266.2Z" fill="#008080" stroke="#005a5a" stroke-width="0.7"/><path d="M274.3 267.9L279.1 276.5L269.5 276.5Z" fill="#008080" stroke="#005a5a" stroke-width="0.7"/><path d="M280.0 274.2L284.8 282.8L275.2 282.8Z" fill="#008080" stroke="#005a5a" stroke-width="0.7"/><path d="M285.7 273.8L290.5 282.4L280.9 282.4Z" fill="#008080" stroke="#005a5a" stroke-width="0.7"/><path d="M291.4 289.3L296.2 297.9L286.6 297.9Z" fill="#008080" stroke="#005a5a" stroke-width="0.7"/><path d="M297.1 302.3L301.9 310.9L292.3 310.9Z" fill="#008080" stroke="#005a5a" stroke-width="0.7"/><path d="M302.8 300.8L307.6 309.4L298.0 309.4Z" fill="#008080" stroke="#005a5a" stroke-width="0.7"/><path d="M308.5 296.6L313.3 305.2L303.7 305.2Z" fill="#008080" stroke="#005a5a" stroke-width="0.7"/><path d="M314.2 306.0L319.0 314.6L309.4 314.6Z" fill="#008080" stroke="#005a5a" stroke-width="0.7"/><path d="M319.8 310.3L324.6 318.9L315.0 318.9Z" fill="#008080" stroke="#005a5a" stroke-width="0.7"/><path d="M325.5 311.9L330.3 320.5L320.7 320.5Z" fill="#008080" stroke="#005a5a" stroke-width="0.7"/><path d="M331.2 316.0L336.0 324.6L326.4 324.6Z" fill="#008080" stroke="#005a5a" stroke-width="0.7"/><path d="M336.9 313.5L341.7 322.1L332.1 322.1Z" fill="#008080" stroke="#005a5a" stroke-width="0.7"/><path d="M342.6 323.4L347.4 332.0L337.8 332.0Z" fill="#008080" stroke="#005a5a" stroke-width="0.7"/><path d="M348.3 331.8L353.1 340.4L343.5 340.4Z" fill="#008080" stroke="#005a5a" stroke-width="0.7"/><path d="M354.0 337.4L358.8 346.0L349.2 346.0Z" fill="#008080" stroke="#005a5a" stroke-width="0.7"/><path d="M359.6 344.0L364.4 352.6L354.8 352.6Z" fill="#008080" stroke="#005a5a" stroke-width="0.7"/><path d="M365.3 344.0L370.1 352.6L360.5 352.6Z" fill="#008080" stroke="#005a5a" stroke-width="0.7"/><path d="M371.0 347.7L375.8 356.3L366.2 356.3Z" fill="#008080" stroke="#005a5a" stroke-width="0.7"/><path d="M376.7 333.9L381.5 342.5L371.9 342.5Z" fill="#008080" stroke="#005a5a" stroke-width="0.7"/><path d="M382.4 347.2L387.2 355.8L377.6 355.8Z" fill="#008080" stroke="#005a5a" stroke-width="0.7"/><path d="M388.1 345.6L392.9 354.2L383.3 354.2Z" fill="#008080" stroke="#005a5a" stroke-width="0.7"/><path d="M393.8 338.6L398.6 347.2L389.0 347.2Z" fill="#008080" stroke="#005a5a" stroke-width="0.7"/><path d="M439.3 346.6L444.1 355.2L434.5 355.2Z" fill="#008080" stroke="#005a5a" stroke-width="0.7"/><path d="M444.9 350.3L449.7 358.9L440.1 358.9Z" fill="#008080" stroke="#005a5a" stroke-width="0.7"/><path d="M484.8 352.4L489.6 361.0L480.0 361.0Z" fill="#008080" stroke="#005a5a" stroke-width="0.7"/><path d="M490.4 344.4L495.2 353.0L485.6 353.0Z" fill="#008080" stroke="#005a5a" stroke-width="0.7"/></g><g clip-path="url(#ca)"><path d="M81.0 358.0L86.7 358.0L92.4 358.0L98.1 358.0L103.7 358.0L109.4 358.0L115.1 358.0L120.8 358.0L126.5 358.0L132.2 358.0L137.9 358.0L143.6 358.0L149.2 358.0L154.9 358.0L160.6 358.0L166.3 358.0L172.0 358.0L177.7 350.0L183.4 342.3L189.0 339.5L194.7 335.5L200.4 332.1L206.1 333.0L211.8 330.7L217.5 329.7L223.2 330.8L228.9 332.8L234.5 333.3L240.2 334.7L245.9 338.4L251.6 339.3L257.3 336.1L263.0 343.0L268.7 344.2L274.3 344.8L280.0 348.8L285.7 350.4L291.4 354.3L297.1 358.0L302.8 358.0L308.5 358.0L314.2 358.0L319.8 358.0L325.5 358.0L331.2 358.0L336.9 358.0L342.6 358.0L348.3 358.0L354.0 358.0L359.6 358.0L365.3 358.0L371.0 358.0L376.7 358.0L382.4 358.0L388.1 358.0L393.8 358.0L399.5 358.0L405.1 358.0L410.8 358.0L416.5 358.0L422.2 358.0L427.9 358.0L433.6 358.0L439.3 358.0L444.9 358.0L450.6 358.0L456.3 358.0L462.0 358.0L467.7 358.0L473.4 358.0L479.1 358.0L484.8 358.0L490.4 358.0L496.1 358.0L501.8 358.0L507.5 358.0" fill="none" stroke="#00ffff" stroke-width="1.0" stroke-opacity="0.85"/><path d="M177.7 345.7L182.5 354.3L172.9 354.3Z" fill="#00ffff" stroke="#00c8d8" stroke-width="0.7"/><path d="M183.4 338.0L188.2 346.6L178.6 346.6Z" fill="#00ffff" stroke="#00c8d8" stroke-width="0.7"/><path d="M189.0 335.2L193.8 343.8L184.2 343.8Z" fill="#00ffff" stroke="#00c8d8" stroke-width="0.7"/><path d="M194.7 331.2L199.5 339.8L189.9 339.8Z" fill="#00ffff" stroke="#00c8d8" stroke-width="0.7"/><path d="M200.4 327.8L205.2 336.4L195.6 336.4Z" fill="#00ffff" stroke="#00c8d8" stroke-width="0.7"/><path d="M206.1 328.7L210.9 337.3L201.3 337.3Z" fill="#00ffff" stroke="#00c8d8" stroke-width="0.7"/><path d="M211.8 326.4L216.6 335.0L207.0 335.0Z" fill="#00ffff" stroke="#00c8d8" stroke-width="0.7"/><path d="M217.5 325.4L222.3 334.0L212.7 334.0Z" fill="#00ffff" stroke="#00c8d8" stroke-width="0.7"/><path d="M223.2 326.5L228.0 335.1L218.4 335.1Z" fill="#00ffff" stroke="#00c8d8" stroke-width="0.7"/><path d="M228.9 328.5L233.7 337.1L224.1 337.1Z" fill="#00ffff" stroke="#00c8d8" stroke-width="0.7"/><path d="M234.5 329.0L239.3 337.6L229.7 337.6Z" fill="#00ffff" stroke="#00c8d8" stroke-width="0.7"/><path d="M240.2 330.4L245.0 339.0L235.4 339.0Z" fill="#00ffff" stroke="#00c8d8" stroke-width="0.7"/><path d="M245.9 334.1L250.7 342.7L241.1 342.7Z" fill="#00ffff" stroke="#00c8d8" stroke-width="0.7"/><path d="M251.6 335.0L256.4 343.6L246.8 343.6Z" fill="#00ffff" stroke="#00c8d8" stroke-width="0.7"/><path d="M257.3 331.8L262.1 340.4L252.5 340.4Z" fill="#00ffff" stroke="#00c8d8" stroke-width="0.7"/><path d="M263.0 338.7L267.8 347.3L258.2 347.3Z" fill="#00ffff" stroke="#00c8d8" stroke-width="0.7"/><path d="M268.7 339.9L273.5 348.5L263.9 348.5Z" fill="#00ffff" stroke="#00c8d8" stroke-width="0.7"/><path d="M274.3 340.5L279.1 349.1L269.5 349.1Z" fill="#00ffff" stroke="#00c8d8" stroke-width="0.7"/><path d="M280.0 344.5L284.8 353.1L275.2 353.1Z" fill="#00ffff" stroke="#00c8d8" stroke-width="0.7"/><path d="M285.7 346.1L290.5 354.7L280.9 354.7Z" fill="#00ffff" stroke="#00c8d8" stroke-width="0.7"/><path d="M291.4 350.0L296.2 358.6L286.6 358.6Z" fill="#00ffff" stroke="#00c8d8" stroke-width="0.7"/></g><g clip-path="url(#ca)"><path d="M81.0 358.0L86.7 358.0L92.4 358.0L98.1 358.0L103.7 358.0L109.4 358.0L115.1 358.0L120.8 358.0L126.5 358.0L132.2 358.0L137.9 358.0L143.6 358.0L149.2 358.0L154.9 358.0L160.6 358.0L166.3 358.0L172.0 358.0L177.7 358.0L183.4 358.0L189.0 358.0L194.7 358.0L200.4 358.0L206.1 358.0L211.8 358.0L217.5 358.0L223.2 358.0L228.9 358.0L234.5 358.0L240.2 358.0L245.9 358.0L251.6 358.0L257.3 358.0L263.0 358.0L268.7 358.0L274.3 358.0L280.0 358.0L285.7 358.0L291.4 358.0L297.1 358.0L302.8 358.0L308.5 358.0L314.2 358.0L319.8 358.0L325.5 358.0L331.2 358.0L336.9 358.0L342.6 358.0L348.3 358.0L354.0 358.0L359.6 358.0L365.3 358.0L371.0 358.0L376.7 358.0L382.4 358.0L388.1 358.0L393.8 358.0L399.5 358.0L405.1 358.0L410.8 358.0L416.5 358.0L422.2 358.0L427.9 358.0L433.6 358.0L439.3 358.0L444.9 358.0L450.6 358.0L456.3 358.0L462.0 358.0L467.7 358.0L473.4 358.0L479.1 358.0L484.8 358.0L490.4 358.0L496.1 358.0L501.8 358.0L507.5 358.0" fill="none" stroke="#8b1e46" stroke-width="1.0" stroke-opacity="0.85"/></g><line x1="81.3" y1="358.0" x2="89.7" y2="358.0" stroke="#111" stroke-width="1.7"/><line x1="507.8" y1="358.0" x2="499.40000000000003" y2="358.0" stroke="#111" stroke-width="1.7"/><line x1="81.3" y1="329.1" x2="85.5" y2="329.1" stroke="#111" stroke-width="1.7"/><line x1="507.8" y1="329.1" x2="503.6" y2="329.1" stroke="#111" stroke-width="1.7"/><line x1="81.3" y1="300.2" x2="89.7" y2="300.2" stroke="#111" stroke-width="1.7"/><line x1="507.8" y1="300.2" x2="499.40000000000003" y2="300.2" stroke="#111" stroke-width="1.7"/><line x1="81.3" y1="271.2" x2="85.5" y2="271.2" stroke="#111" stroke-width="1.7"/><line x1="507.8" y1="271.2" x2="503.6" y2="271.2" stroke="#111" stroke-width="1.7"/><line x1="81.3" y1="242.3" x2="89.7" y2="242.3" stroke="#111" stroke-width="1.7"/><line x1="507.8" y1="242.3" x2="499.40000000000003" y2="242.3" stroke="#111" stroke-width="1.7"/><line x1="81.3" y1="213.4" x2="85.5" y2="213.4" stroke="#111" stroke-width="1.7"/><line x1="507.8" y1="213.4" x2="503.6" y2="213.4" stroke="#111" stroke-width="1.7"/><line x1="81.3" y1="184.5" x2="89.7" y2="184.5" stroke="#111" stroke-width="1.7"/><line x1="507.8" y1="184.5" x2="499.40000000000003" y2="184.5" stroke="#111" stroke-width="1.7"/><line x1="81.3" y1="155.6" x2="85.5" y2="155.6" stroke="#111" stroke-width="1.7"/><line x1="507.8" y1="155.6" x2="503.6" y2="155.6" stroke="#111" stroke-width="1.7"/><line x1="81.3" y1="126.7" x2="89.7" y2="126.7" stroke="#111" stroke-width="1.7"/><line x1="507.8" y1="126.7" x2="499.40000000000003" y2="126.7" stroke="#111" stroke-width="1.7"/><line x1="81.3" y1="97.8" x2="85.5" y2="97.8" stroke="#111" stroke-width="1.7"/><line x1="507.8" y1="97.8" x2="503.6" y2="97.8" stroke="#111" stroke-width="1.7"/><line x1="81.3" y1="68.8" x2="89.7" y2="68.8" stroke="#111" stroke-width="1.7"/><line x1="507.8" y1="68.8" x2="499.40000000000003" y2="68.8" stroke="#111" stroke-width="1.7"/><line x1="81.3" y1="39.9" x2="85.5" y2="39.9" stroke="#111" stroke-width="1.7"/><line x1="507.8" y1="39.9" x2="503.6" y2="39.9" stroke="#111" stroke-width="1.7"/><line x1="81.3" y1="11.0" x2="89.7" y2="11.0" stroke="#111" stroke-width="1.7"/><line x1="507.8" y1="11.0" x2="499.40000000000003" y2="11.0" stroke="#111" stroke-width="1.7"/><line x1="81.3" y1="11" x2="81.3" y2="20" stroke="#111" stroke-width="1.7"/><line x1="81.3" y1="358" x2="81.3" y2="349" stroke="#111" stroke-width="1.7"/><line x1="109.7" y1="11" x2="109.7" y2="15.5" stroke="#111" stroke-width="1.7"/><line x1="109.7" y1="358" x2="109.7" y2="353.5" stroke="#111" stroke-width="1.7"/><line x1="138.2" y1="11" x2="138.2" y2="15.5" stroke="#111" stroke-width="1.7"/><line x1="138.2" y1="358" x2="138.2" y2="353.5" stroke="#111" stroke-width="1.7"/><line x1="166.6" y1="11" x2="166.6" y2="20" stroke="#111" stroke-width="1.7"/><line x1="166.6" y1="358" x2="166.6" y2="349" stroke="#111" stroke-width="1.7"/><line x1="195.0" y1="11" x2="195.0" y2="15.5" stroke="#111" stroke-width="1.7"/><line x1="195.0" y1="358" x2="195.0" y2="353.5" stroke="#111" stroke-width="1.7"/><line x1="223.5" y1="11" x2="223.5" y2="15.5" stroke="#111" stroke-width="1.7"/><line x1="223.5" y1="358" x2="223.5" y2="353.5" stroke="#111" stroke-width="1.7"/><line x1="251.9" y1="11" x2="251.9" y2="20" stroke="#111" stroke-width="1.7"/><line x1="251.9" y1="358" x2="251.9" y2="349" stroke="#111" stroke-width="1.7"/><line x1="280.3" y1="11" x2="280.3" y2="15.5" stroke="#111" stroke-width="1.7"/><line x1="280.3" y1="358" x2="280.3" y2="353.5" stroke="#111" stroke-width="1.7"/><line x1="308.8" y1="11" x2="308.8" y2="15.5" stroke="#111" stroke-width="1.7"/><line x1="308.8" y1="358" x2="308.8" y2="353.5" stroke="#111" stroke-width="1.7"/><line x1="337.2" y1="11" x2="337.2" y2="20" stroke="#111" stroke-width="1.7"/><line x1="337.2" y1="358" x2="337.2" y2="349" stroke="#111" stroke-width="1.7"/><line x1="365.6" y1="11" x2="365.6" y2="15.5" stroke="#111" stroke-width="1.7"/><line x1="365.6" y1="358" x2="365.6" y2="353.5" stroke="#111" stroke-width="1.7"/><line x1="394.1" y1="11" x2="394.1" y2="15.5" stroke="#111" stroke-width="1.7"/><line x1="394.1" y1="358" x2="394.1" y2="353.5" stroke="#111" stroke-width="1.7"/><line x1="422.5" y1="11" x2="422.5" y2="20" stroke="#111" stroke-width="1.7"/><line x1="422.5" y1="358" x2="422.5" y2="349" stroke="#111" stroke-width="1.7"/><line x1="450.9" y1="11" x2="450.9" y2="15.5" stroke="#111" stroke-width="1.7"/><line x1="450.9" y1="358" x2="450.9" y2="353.5" stroke="#111" stroke-width="1.7"/><line x1="479.4" y1="11" x2="479.4" y2="15.5" stroke="#111" stroke-width="1.7"/><line x1="479.4" y1="358" x2="479.4" y2="353.5" stroke="#111" stroke-width="1.7"/><line x1="507.8" y1="11" x2="507.8" y2="20" stroke="#111" stroke-width="1.7"/><line x1="507.8" y1="358" x2="507.8" y2="349" stroke="#111" stroke-width="1.7"/><g clip-path="url(#ca)"><rect x="80.3" y="355.0" width="126.7" height="3.8" fill="#050505"/><circle cx="81.3" cy="354.9" r="2.5" fill="#050505"/><circle cx="87.0" cy="354.9" r="2.5" fill="#050505"/><circle cx="92.7" cy="354.9" r="2.5" fill="#050505"/><circle cx="98.4" cy="354.9" r="2.5" fill="#050505"/><circle cx="104.0" cy="354.9" r="2.5" fill="#050505"/><circle cx="109.7" cy="354.9" r="2.5" fill="#050505"/><circle cx="115.4" cy="354.9" r="2.5" fill="#050505"/><circle cx="121.1" cy="354.9" r="2.5" fill="#050505"/><circle cx="126.8" cy="354.9" r="2.5" fill="#050505"/><circle cx="132.5" cy="354.9" r="2.5" fill="#050505"/><circle cx="138.2" cy="354.9" r="2.5" fill="#050505"/><circle cx="143.9" cy="354.9" r="2.5" fill="#050505"/><circle cx="149.5" cy="354.9" r="2.5" fill="#050505"/><circle cx="155.2" cy="354.9" r="2.5" fill="#050505"/><circle cx="160.9" cy="354.9" r="2.5" fill="#050505"/><circle cx="166.6" cy="354.9" r="2.5" fill="#050505"/><circle cx="172.3" cy="354.9" r="2.5" fill="#050505"/><circle cx="178.0" cy="354.9" r="2.5" fill="#050505"/><circle cx="183.7" cy="354.9" r="2.5" fill="#050505"/><circle cx="189.3" cy="354.9" r="2.5" fill="#050505"/><circle cx="195.0" cy="354.9" r="2.5" fill="#050505"/><circle cx="200.7" cy="354.9" r="2.5" fill="#050505"/><circle cx="206.4" cy="354.9" r="2.5" fill="#050505"/><rect x="207.0" y="355.0" width="217.5" height="3.8" fill="#6a1030"/><circle cx="206.4" cy="354.9" r="2.5" fill="#6a1030"/><circle cx="212.1" cy="354.9" r="2.5" fill="#6a1030"/><circle cx="217.8" cy="354.9" r="2.5" fill="#6a1030"/><circle cx="223.5" cy="354.9" r="2.5" fill="#6a1030"/><circle cx="229.2" cy="354.9" r="2.5" fill="#6a1030"/><circle cx="234.8" cy="354.9" r="2.5" fill="#6a1030"/><circle cx="240.5" cy="354.9" r="2.5" fill="#6a1030"/><circle cx="246.2" cy="354.9" r="2.5" fill="#6a1030"/><circle cx="251.9" cy="354.9" r="2.5" fill="#6a1030"/><circle cx="257.6" cy="354.9" r="2.5" fill="#6a1030"/><circle cx="263.3" cy="354.9" r="2.5" fill="#6a1030"/><circle cx="269.0" cy="354.9" r="2.5" fill="#6a1030"/><circle cx="274.6" cy="354.9" r="2.5" fill="#6a1030"/><circle cx="280.3" cy="354.9" r="2.5" fill="#6a1030"/><circle cx="286.0" cy="354.9" r="2.5" fill="#6a1030"/><circle cx="291.7" cy="354.9" r="2.5" fill="#6a1030"/><circle cx="297.4" cy="354.9" r="2.5" fill="#6a1030"/><circle cx="303.1" cy="354.9" r="2.5" fill="#6a1030"/><circle cx="308.8" cy="354.9" r="2.5" fill="#6a1030"/><circle cx="314.5" cy="354.9" r="2.5" fill="#6a1030"/><circle cx="320.1" cy="354.9" r="2.5" fill="#6a1030"/><circle cx="325.8" cy="354.9" r="2.5" fill="#6a1030"/><circle cx="331.5" cy="354.9" r="2.5" fill="#6a1030"/><circle cx="337.2" cy="354.9" r="2.5" fill="#6a1030"/><circle cx="342.9" cy="354.9" r="2.5" fill="#6a1030"/><circle cx="348.6" cy="354.9" r="2.5" fill="#6a1030"/><circle cx="354.3" cy="354.9" r="2.5" fill="#6a1030"/><circle cx="359.9" cy="354.9" r="2.5" fill="#6a1030"/><circle cx="365.6" cy="354.9" r="2.5" fill="#6a1030"/><circle cx="371.3" cy="354.9" r="2.5" fill="#6a1030"/><circle cx="377.0" cy="354.9" r="2.5" fill="#6a1030"/><circle cx="382.7" cy="354.9" r="2.5" fill="#6a1030"/><circle cx="388.4" cy="354.9" r="2.5" fill="#6a1030"/><circle cx="394.1" cy="354.9" r="2.5" fill="#6a1030"/><circle cx="399.8" cy="354.9" r="2.5" fill="#6a1030"/><circle cx="405.4" cy="354.9" r="2.5" fill="#6a1030"/><circle cx="411.1" cy="354.9" r="2.5" fill="#6a1030"/><circle cx="416.8" cy="354.9" r="2.5" fill="#6a1030"/><circle cx="422.5" cy="354.9" r="2.5" fill="#6a1030"/><rect x="424.5" y="355.0" width="84.3" height="3.8" fill="#050505"/><circle cx="422.5" cy="354.9" r="2.5" fill="#050505"/><circle cx="428.2" cy="354.9" r="2.5" fill="#050505"/><circle cx="433.9" cy="354.9" r="2.5" fill="#050505"/><circle cx="439.6" cy="354.9" r="2.5" fill="#050505"/><circle cx="445.2" cy="354.9" r="2.5" fill="#050505"/><circle cx="450.9" cy="354.9" r="2.5" fill="#050505"/><circle cx="456.6" cy="354.9" r="2.5" fill="#050505"/><circle cx="462.3" cy="354.9" r="2.5" fill="#050505"/><circle cx="468.0" cy="354.9" r="2.5" fill="#050505"/><circle cx="473.7" cy="354.9" r="2.5" fill="#050505"/><circle cx="479.4" cy="354.9" r="2.5" fill="#050505"/><circle cx="485.1" cy="354.9" r="2.5" fill="#050505"/><circle cx="490.7" cy="354.9" r="2.5" fill="#050505"/><circle cx="496.4" cy="354.9" r="2.5" fill="#050505"/><circle cx="502.1" cy="354.9" r="2.5" fill="#050505"/><circle cx="507.8" cy="354.9" r="2.5" fill="#050505"/></g><g clip-path="url(#ca)"><path d="M81.0 358.0L86.7 358.0L92.4 358.0L98.1 358.0L103.7 358.0L109.4 358.0L115.1 358.0L120.8 358.0L126.5 358.0L132.2 358.0L137.9 358.0L143.6 358.0L149.2 358.0L154.9 358.0L160.6 358.0L166.3 358.0L172.0 358.0L177.7 358.0L183.4 358.0L189.0 358.0L194.7 358.0L200.4 358.0L206.2 350.0L212.0 335.4L216.9 309.5L223.1 277.5L229.0 239.4L234.4 201.7L240.5 160.5L246.2 126.1L251.4 97.9L257.2 72.2L263.3 55.8L268.5 39.0L274.2 34.4L280.3 40.8L286.1 50.0L291.0 59.5L296.7 63.3L303.1 79.7L308.5 104.2L314.0 131.0L320.1 150.8L325.6 165.3L331.5 181.0L337.7 198.5L342.3 240.7L348.5 246.9L354.4 237.5L359.8 264.4L365.2 278.7L370.4 296.3L377.1 291.7L382.5 299.8L387.3 318.1L394.1 319.5L400.0 318.7L405.4 332.1L411.3 338.3L416.2 346.9L422.9 352.3L428.3 351.0L433.6 358.0L439.3 358.0L444.9 358.0L451.2 338.9L456.3 358.0L462.0 358.0L467.7 358.0L473.4 358.0L479.1 358.0L484.8 358.0L490.4 358.0L496.1 358.0L501.8 358.0L507.5 358.0" fill="none" stroke="#000000" stroke-width="1.0" stroke-opacity="0.85"/><circle cx="206.2" cy="350.0" r="4.6" fill="#000000"/><circle cx="212.0" cy="335.4" r="4.6" fill="#000000"/><circle cx="216.9" cy="309.5" r="4.6" fill="#000000"/><circle cx="223.1" cy="277.5" r="4.6" fill="#000000"/><circle cx="229.0" cy="239.4" r="4.6" fill="#000000"/><circle cx="234.4" cy="201.7" r="4.6" fill="#000000"/><circle cx="240.5" cy="160.5" r="4.6" fill="#000000"/><circle cx="246.2" cy="126.1" r="4.6" fill="#000000"/><circle cx="251.4" cy="97.9" r="4.6" fill="#000000"/><circle cx="257.2" cy="72.2" r="4.6" fill="#000000"/><circle cx="263.3" cy="55.8" r="4.6" fill="#000000"/><circle cx="268.5" cy="39.0" r="4.6" fill="#000000"/><circle cx="274.2" cy="34.4" r="4.6" fill="#000000"/><circle cx="280.3" cy="40.8" r="4.6" fill="#000000"/><circle cx="286.1" cy="50.0" r="4.6" fill="#000000"/><circle cx="291.0" cy="59.5" r="4.6" fill="#000000"/><circle cx="296.7" cy="63.3" r="4.6" fill="#000000"/><circle cx="303.1" cy="79.7" r="4.6" fill="#000000"/><circle cx="308.5" cy="104.2" r="4.6" fill="#000000"/><circle cx="314.0" cy="131.0" r="4.6" fill="#000000"/><circle cx="320.1" cy="150.8" r="4.6" fill="#000000"/><circle cx="325.6" cy="165.3" r="4.6" fill="#000000"/><circle cx="331.5" cy="181.0" r="4.6" fill="#000000"/><circle cx="337.7" cy="198.5" r="4.6" fill="#000000"/><circle cx="342.3" cy="240.7" r="4.6" fill="#000000"/><circle cx="348.5" cy="246.9" r="4.6" fill="#000000"/><circle cx="354.4" cy="237.5" r="4.6" fill="#000000"/><circle cx="359.8" cy="264.4" r="4.6" fill="#000000"/><circle cx="365.2" cy="278.7" r="4.6" fill="#000000"/><circle cx="370.4" cy="296.3" r="4.6" fill="#000000"/><circle cx="377.1" cy="291.7" r="4.6" fill="#000000"/><circle cx="382.5" cy="299.8" r="4.6" fill="#000000"/><circle cx="387.3" cy="318.1" r="4.6" fill="#000000"/><circle cx="394.1" cy="319.5" r="4.6" fill="#000000"/><circle cx="400.0" cy="318.7" r="4.6" fill="#000000"/><circle cx="405.4" cy="332.1" r="4.6" fill="#000000"/><circle cx="411.3" cy="338.3" r="4.6" fill="#000000"/><circle cx="416.2" cy="346.9" r="4.6" fill="#000000"/><circle cx="422.9" cy="352.3" r="4.6" fill="#000000"/><circle cx="428.3" cy="351.0" r="4.6" fill="#000000"/><circle cx="451.2" cy="338.9" r="4.6" fill="#000000"/></g><line x1="397" y1="48.3" x2="431" y2="48.3" stroke="#7a3838" stroke-width="1.9"/><path d="M414.0 43.1L419.2 48.3L414.0 53.5L408.8 48.3Z" fill="#8b0000" stroke="#5a0000" stroke-width="0.7"/><text x="435" y="53.2" class="lg">WT</text><line x1="397" y1="69.8" x2="431" y2="69.8" stroke="#d88070" stroke-width="1.9"/><path d="M414.0 64.1L418.8 72.7L409.2 72.7Z" fill="#f25c3a" stroke="#c23a20" stroke-width="0.7"/><text x="435" y="74.7" class="lg">V17M</text><line x1="397" y1="91.3" x2="431" y2="91.3" stroke="#d860d8" stroke-width="1.9"/><path d="M414.0 85.6L418.8 94.2L409.2 94.2Z" fill="#ff00ff" stroke="#c000c0" stroke-width="0.7"/><text x="435" y="96.2" class="lg">I16L</text><line x1="397" y1="112.8" x2="431" y2="112.8" stroke="#b0a868" stroke-width="1.9"/><path d="M414.0 107.1L418.8 115.7L409.2 115.7Z" fill="#808000" stroke="#5a5a00" stroke-width="0.7"/><text x="435" y="117.7" class="lg">V17T</text><line x1="397" y1="134.3" x2="431" y2="134.3" stroke="#68a468" stroke-width="1.9"/><path d="M414.0 128.6L418.8 137.2L409.2 137.2Z" fill="#008000" stroke="#005a00" stroke-width="0.7"/><text x="435" y="139.2" class="lg">I16M</text><line x1="397" y1="155.8" x2="431" y2="155.8" stroke="#5c9c9c" stroke-width="1.9"/><path d="M414.0 150.1L418.8 158.7L409.2 158.7Z" fill="#008080" stroke="#005a5a" stroke-width="0.7"/><text x="435" y="160.7" class="lg">V17S</text><line x1="397" y1="177.3" x2="431" y2="177.3" stroke="#78f0f0" stroke-width="1.9"/><path d="M414.0 171.6L418.8 180.2L409.2 180.2Z" fill="#00ffff" stroke="#00c8d8" stroke-width="0.7"/><text x="435" y="182.2" class="lg">I16T</text><line x1="397" y1="198.8" x2="431" y2="198.8" stroke="#a85878" stroke-width="1.9"/><path d="M414.0 193.1L418.8 201.7L409.2 201.7Z" fill="#8b1e46" stroke="#5a1030" stroke-width="0.7"/><text x="435" y="203.7" class="lg">FIX-DP</text><line x1="397" y1="220.3" x2="431" y2="220.3" stroke="#505050" stroke-width="1.9"/><circle cx="414.0" cy="220.3" r="4.6" fill="#000000"/><text x="435" y="225.2" class="lg">NHP</text><text x="80" y="811.0" text-anchor="end" class="tl">0</text><text x="80" y="754.5" text-anchor="end" class="tl">50</text><text x="80" y="698.0" text-anchor="end" class="tl">100</text><text x="80" y="641.5" text-anchor="end" class="tl">150</text><text x="80" y="585.0" text-anchor="end" class="tl">200</text><text x="80" y="528.5" text-anchor="end" class="tl">250</text><text x="80" y="472.0" text-anchor="end" class="tl">300</text><text x="89.8" y="830.5" text-anchor="middle" class="tl">0</text><text x="173.4" y="830.5" text-anchor="middle" class="tl">15</text><text x="257.1" y="830.5" text-anchor="middle" class="tl">30</text><text x="340.7" y="830.5" text-anchor="middle" class="tl">45</text><text x="424.4" y="830.5" text-anchor="middle" class="tl">60</text><text x="508.0" y="830.5" text-anchor="middle" class="tl">75</text><rect x="89.8" y="467.2" width="418.2" height="339.00000000000006" fill="none" stroke="#111" stroke-width="2.1"/><g clip-path="url(#cb)"><path d="M89.6 806.2L95.2 806.2L100.8 805.8L106.3 803.1L111.9 798.2L117.5 791.3L123.1 778.5L128.7 760.8L134.2 741.0L139.8 722.9L145.4 703.8L151.0 684.8L156.5 672.6L162.1 662.7L167.7 655.8L173.3 645.9L178.9 635.7L184.4 626.2L190.0 630.6L195.6 634.6L201.2 636.0L206.8 639.5L212.3 643.0L217.9 646.0L223.5 650.1L229.1 658.1L234.6 666.1L240.2 675.7L245.8 683.7L251.4 691.2L257.0 698.6L262.5 707.6L268.1 716.9L273.7 726.2L279.3 735.2L284.9 743.5L290.4 748.5L296.0 752.0L301.6 755.3L307.2 758.3L312.7 763.6L318.3 771.1L323.9 778.5L329.5 786.1L335.1 795.1L340.6 805.5L346.2 806.2L351.8 806.2L357.4 806.2L363.0 806.2L368.5 806.2L374.1 806.2L379.7 806.2L385.3 806.2L390.8 806.2L396.4 806.2L402.0 806.2L407.6 806.2L413.2 806.2L418.7 806.2L424.3 806.2L429.9 806.2L435.5 806.2L441.1 806.2L446.6 806.2L452.2 806.2L457.8 806.2L463.4 806.2L468.9 806.2L474.5 806.2L480.1 806.2L485.7 806.2L491.3 806.2L496.8 806.2L502.4 806.2L508.0 806.2" fill="none" stroke="#8b0000" stroke-width="1.0" stroke-opacity="0.85"/><path d="M100.8 800.6L106.0 805.8L100.8 811.0L95.6 805.8Z" fill="#8b0000" stroke="#5a0000" stroke-width="0.7"/><path d="M106.3 797.9L111.5 803.1L106.3 808.3L101.1 803.1Z" fill="#8b0000" stroke="#5a0000" stroke-width="0.7"/><path d="M111.9 793.0L117.1 798.2L111.9 803.4L106.7 798.2Z" fill="#8b0000" stroke="#5a0000" stroke-width="0.7"/><path d="M117.5 786.1L122.7 791.3L117.5 796.5L112.3 791.3Z" fill="#8b0000" stroke="#5a0000" stroke-width="0.7"/><path d="M123.1 773.3L128.3 778.5L123.1 783.7L117.9 778.5Z" fill="#8b0000" stroke="#5a0000" stroke-width="0.7"/><path d="M128.7 755.6L133.9 760.8L128.7 766.0L123.5 760.8Z" fill="#8b0000" stroke="#5a0000" stroke-width="0.7"/><path d="M134.2 735.8L139.4 741.0L134.2 746.2L129.0 741.0Z" fill="#8b0000" stroke="#5a0000" stroke-width="0.7"/><path d="M139.8 717.7L145.0 722.9L139.8 728.1L134.6 722.9Z" fill="#8b0000" stroke="#5a0000" stroke-width="0.7"/><path d="M145.4 698.6L150.6 703.8L145.4 709.0L140.2 703.8Z" fill="#8b0000" stroke="#5a0000" stroke-width="0.7"/><path d="M151.0 679.6L156.2 684.8L151.0 690.0L145.8 684.8Z" fill="#8b0000" stroke="#5a0000" stroke-width="0.7"/><path d="M156.5 667.4L161.7 672.6L156.5 677.8L151.3 672.6Z" fill="#8b0000" stroke="#5a0000" stroke-width="0.7"/><path d="M162.1 657.5L167.3 662.7L162.1 667.9L156.9 662.7Z" fill="#8b0000" stroke="#5a0000" stroke-width="0.7"/><path d="M167.7 650.6L172.9 655.8L167.7 661.0L162.5 655.8Z" fill="#8b0000" stroke="#5a0000" stroke-width="0.7"/><path d="M173.3 640.7L178.5 645.9L173.3 651.1L168.1 645.9Z" fill="#8b0000" stroke="#5a0000" stroke-width="0.7"/><path d="M178.9 630.5L184.1 635.7L178.9 640.9L173.7 635.7Z" fill="#8b0000" stroke="#5a0000" stroke-width="0.7"/><path d="M184.4 621.0L189.6 626.2L184.4 631.4L179.2 626.2Z" fill="#8b0000" stroke="#5a0000" stroke-width="0.7"/><path d="M190.0 625.4L195.2 630.6L190.0 635.8L184.8 630.6Z" fill="#8b0000" stroke="#5a0000" stroke-width="0.7"/><path d="M195.6 629.4L200.8 634.6L195.6 639.8L190.4 634.6Z" fill="#8b0000" stroke="#5a0000" stroke-width="0.7"/><path d="M201.2 630.8L206.4 636.0L201.2 641.2L196.0 636.0Z" fill="#8b0000" stroke="#5a0000" stroke-width="0.7"/><path d="M206.8 634.3L212.0 639.5L206.8 644.7L201.6 639.5Z" fill="#8b0000" stroke="#5a0000" stroke-width="0.7"/><path d="M212.3 637.8L217.5 643.0L212.3 648.2L207.1 643.0Z" fill="#8b0000" stroke="#5a0000" stroke-width="0.7"/><path d="M217.9 640.8L223.1 646.0L217.9 651.2L212.7 646.0Z" fill="#8b0000" stroke="#5a0000" stroke-width="0.7"/><path d="M223.5 644.9L228.7 650.1L223.5 655.3L218.3 650.1Z" fill="#8b0000" stroke="#5a0000" stroke-width="0.7"/><path d="M229.1 652.9L234.3 658.1L229.1 663.3L223.9 658.1Z" fill="#8b0000" stroke="#5a0000" stroke-width="0.7"/><path d="M234.6 660.9L239.8 666.1L234.6 671.3L229.4 666.1Z" fill="#8b0000" stroke="#5a0000" stroke-width="0.7"/><path d="M240.2 670.5L245.4 675.7L240.2 680.9L235.0 675.7Z" fill="#8b0000" stroke="#5a0000" stroke-width="0.7"/><path d="M245.8 678.5L251.0 683.7L245.8 688.9L240.6 683.7Z" fill="#8b0000" stroke="#5a0000" stroke-width="0.7"/><path d="M251.4 686.0L256.6 691.2L251.4 696.4L246.2 691.2Z" fill="#8b0000" stroke="#5a0000" stroke-width="0.7"/><path d="M257.0 693.4L262.2 698.6L257.0 703.8L251.8 698.6Z" fill="#8b0000" stroke="#5a0000" stroke-width="0.7"/><path d="M262.5 702.4L267.7 707.6L262.5 712.8L257.3 707.6Z" fill="#8b0000" stroke="#5a0000" stroke-width="0.7"/><path d="M268.1 711.7L273.3 716.9L268.1 722.1L262.9 716.9Z" fill="#8b0000" stroke="#5a0000" stroke-width="0.7"/><path d="M273.7 721.0L278.9 726.2L273.7 731.4L268.5 726.2Z" fill="#8b0000" stroke="#5a0000" stroke-width="0.7"/><path d="M279.3 730.0L284.5 735.2L279.3 740.4L274.1 735.2Z" fill="#8b0000" stroke="#5a0000" stroke-width="0.7"/><path d="M284.9 738.3L290.1 743.5L284.9 748.7L279.7 743.5Z" fill="#8b0000" stroke="#5a0000" stroke-width="0.7"/><path d="M290.4 743.3L295.6 748.5L290.4 753.7L285.2 748.5Z" fill="#8b0000" stroke="#5a0000" stroke-width="0.7"/><path d="M296.0 746.8L301.2 752.0L296.0 757.2L290.8 752.0Z" fill="#8b0000" stroke="#5a0000" stroke-width="0.7"/><path d="M301.6 750.1L306.8 755.3L301.6 760.5L296.4 755.3Z" fill="#8b0000" stroke="#5a0000" stroke-width="0.7"/><path d="M307.2 753.1L312.4 758.3L307.2 763.5L302.0 758.3Z" fill="#8b0000" stroke="#5a0000" stroke-width="0.7"/><path d="M312.7 758.4L317.9 763.6L312.7 768.8L307.5 763.6Z" fill="#8b0000" stroke="#5a0000" stroke-width="0.7"/><path d="M318.3 765.9L323.5 771.1L318.3 776.3L313.1 771.1Z" fill="#8b0000" stroke="#5a0000" stroke-width="0.7"/><path d="M323.9 773.3L329.1 778.5L323.9 783.7L318.7 778.5Z" fill="#8b0000" stroke="#5a0000" stroke-width="0.7"/><path d="M329.5 780.9L334.7 786.1L329.5 791.3L324.3 786.1Z" fill="#8b0000" stroke="#5a0000" stroke-width="0.7"/><path d="M335.1 789.9L340.3 795.1L335.1 800.3L329.9 795.1Z" fill="#8b0000" stroke="#5a0000" stroke-width="0.7"/><path d="M340.6 800.3L345.8 805.5L340.6 810.7L335.4 805.5Z" fill="#8b0000" stroke="#5a0000" stroke-width="0.7"/></g><g clip-path="url(#cb)"><path d="M89.6 806.2L95.2 806.2L100.8 806.2L106.3 805.7L111.9 798.0L117.5 780.0L123.1 752.1L128.7 721.7L134.2 689.8L139.8 660.0L145.4 628.1L151.0 601.8L156.5 584.9L162.1 567.9L167.7 552.0L173.3 551.2L178.9 549.0L184.4 546.6L190.0 546.5L195.6 565.3L201.2 574.7L206.8 581.6L212.3 602.1L217.9 608.9L223.5 615.5L229.1 630.2L234.6 646.0L240.2 655.5L245.8 667.6L251.4 678.8L257.0 689.9L262.5 699.6L268.1 710.2L273.7 720.2L279.3 729.5L284.9 737.8L290.4 746.1L296.0 756.4L301.6 769.1L307.2 783.2L312.7 796.4L318.3 806.2L323.9 806.2L329.5 806.2L335.1 806.2L340.6 806.2L346.2 806.2L351.8 806.2L357.4 806.2L363.0 806.2L368.5 806.2L374.1 806.2L379.7 806.2L385.3 806.2L390.8 806.2L396.4 806.2L402.0 806.2L407.6 806.2L413.2 806.2L418.7 806.2L424.3 806.2L429.9 806.2L435.5 806.2L441.1 806.2L446.6 806.2L452.2 806.2L457.8 806.2L463.4 806.2L468.9 806.2L474.5 806.2L480.1 806.2L485.7 806.2L491.3 806.2L496.8 806.2L502.4 806.2L508.0 806.2" fill="none" stroke="#f25c3a" stroke-width="1.0" stroke-opacity="0.85"/><path d="M106.3 801.4L111.1 810.0L101.5 810.0Z" fill="#f25c3a" stroke="#c23a20" stroke-width="0.7"/><path d="M111.9 793.7L116.7 802.3L107.1 802.3Z" fill="#f25c3a" stroke="#c23a20" stroke-width="0.7"/><path d="M117.5 775.7L122.3 784.3L112.7 784.3Z" fill="#f25c3a" stroke="#c23a20" stroke-width="0.7"/><path d="M123.1 747.8L127.9 756.4L118.3 756.4Z" fill="#f25c3a" stroke="#c23a20" stroke-width="0.7"/><path d="M128.7 717.4L133.5 726.0L123.9 726.0Z" fill="#f25c3a" stroke="#c23a20" stroke-width="0.7"/><path d="M134.2 685.5L139.0 694.1L129.4 694.1Z" fill="#f25c3a" stroke="#c23a20" stroke-width="0.7"/><path d="M139.8 655.7L144.6 664.3L135.0 664.3Z" fill="#f25c3a" stroke="#c23a20" stroke-width="0.7"/><path d="M145.4 623.8L150.2 632.4L140.6 632.4Z" fill="#f25c3a" stroke="#c23a20" stroke-width="0.7"/><path d="M151.0 597.5L155.8 606.1L146.2 606.1Z" fill="#f25c3a" stroke="#c23a20" stroke-width="0.7"/><path d="M156.5 580.6L161.3 589.2L151.7 589.2Z" fill="#f25c3a" stroke="#c23a20" stroke-width="0.7"/><path d="M162.1 563.6L166.9 572.2L157.3 572.2Z" fill="#f25c3a" stroke="#c23a20" stroke-width="0.7"/><path d="M167.7 547.7L172.5 556.3L162.9 556.3Z" fill="#f25c3a" stroke="#c23a20" stroke-width="0.7"/><path d="M173.3 546.9L178.1 555.5L168.5 555.5Z" fill="#f25c3a" stroke="#c23a20" stroke-width="0.7"/><path d="M178.9 544.7L183.7 553.3L174.1 553.3Z" fill="#f25c3a" stroke="#c23a20" stroke-width="0.7"/><path d="M184.4 542.3L189.2 550.9L179.6 550.9Z" fill="#f25c3a" stroke="#c23a20" stroke-width="0.7"/><path d="M190.0 542.2L194.8 550.8L185.2 550.8Z" fill="#f25c3a" stroke="#c23a20" stroke-width="0.7"/><path d="M195.6 561.0L200.4 569.6L190.8 569.6Z" fill="#f25c3a" stroke="#c23a20" stroke-width="0.7"/><path d="M201.2 570.4L206.0 579.0L196.4 579.0Z" fill="#f25c3a" stroke="#c23a20" stroke-width="0.7"/><path d="M206.8 577.3L211.6 585.9L202.0 585.9Z" fill="#f25c3a" stroke="#c23a20" stroke-width="0.7"/><path d="M212.3 597.8L217.1 606.4L207.5 606.4Z" fill="#f25c3a" stroke="#c23a20" stroke-width="0.7"/><path d="M217.9 604.6L222.7 613.2L213.1 613.2Z" fill="#f25c3a" stroke="#c23a20" stroke-width="0.7"/><path d="M223.5 611.2L228.3 619.8L218.7 619.8Z" fill="#f25c3a" stroke="#c23a20" stroke-width="0.7"/><path d="M229.1 625.9L233.9 634.5L224.3 634.5Z" fill="#f25c3a" stroke="#c23a20" stroke-width="0.7"/><path d="M234.6 641.7L239.4 650.3L229.8 650.3Z" fill="#f25c3a" stroke="#c23a20" stroke-width="0.7"/><path d="M240.2 651.2L245.0 659.8L235.4 659.8Z" fill="#f25c3a" stroke="#c23a20" stroke-width="0.7"/><path d="M245.8 663.3L250.6 671.9L241.0 671.9Z" fill="#f25c3a" stroke="#c23a20" stroke-width="0.7"/><path d="M251.4 674.5L256.2 683.1L246.6 683.1Z" fill="#f25c3a" stroke="#c23a20" stroke-width="0.7"/><path d="M257.0 685.6L261.8 694.2L252.2 694.2Z" fill="#f25c3a" stroke="#c23a20" stroke-width="0.7"/><path d="M262.5 695.3L267.3 703.9L257.7 703.9Z" fill="#f25c3a" stroke="#c23a20" stroke-width="0.7"/><path d="M268.1 705.9L272.9 714.5L263.3 714.5Z" fill="#f25c3a" stroke="#c23a20" stroke-width="0.7"/><path d="M273.7 715.9L278.5 724.5L268.9 724.5Z" fill="#f25c3a" stroke="#c23a20" stroke-width="0.7"/><path d="M279.3 725.2L284.1 733.8L274.5 733.8Z" fill="#f25c3a" stroke="#c23a20" stroke-width="0.7"/><path d="M284.9 733.5L289.7 742.1L280.1 742.1Z" fill="#f25c3a" stroke="#c23a20" stroke-width="0.7"/><path d="M290.4 741.8L295.2 750.4L285.6 750.4Z" fill="#f25c3a" stroke="#c23a20" stroke-width="0.7"/><path d="M296.0 752.1L300.8 760.7L291.2 760.7Z" fill="#f25c3a" stroke="#c23a20" stroke-width="0.7"/><path d="M301.6 764.8L306.4 773.4L296.8 773.4Z" fill="#f25c3a" stroke="#c23a20" stroke-width="0.7"/><path d="M307.2 778.9L312.0 787.5L302.4 787.5Z" fill="#f25c3a" stroke="#c23a20" stroke-width="0.7"/><path d="M312.7 792.1L317.5 800.7L307.9 800.7Z" fill="#f25c3a" stroke="#c23a20" stroke-width="0.7"/></g><g clip-path="url(#cb)"><path d="M89.6 806.2L95.2 806.2L100.8 806.2L106.3 805.6L111.9 796.0L117.5 782.0L123.1 758.1L128.7 727.7L134.2 696.8L139.8 666.0L145.4 633.1L151.0 609.8L156.5 596.9L162.1 581.9L167.7 569.0L173.3 565.0L178.9 565.4L184.4 560.0L190.0 554.1L195.6 574.0L201.2 586.0L206.8 589.2L212.3 610.0L217.9 619.0L223.5 627.2L229.1 638.2L234.6 650.4L240.2 660.4L245.8 669.7L251.4 682.6L257.0 693.1L262.5 703.4L268.1 717.0L273.7 731.4L279.3 741.4L284.9 751.7L290.4 759.8L296.0 767.3L301.6 775.7L307.2 783.6L312.7 791.6L318.3 802.6L323.9 806.2L329.5 806.2L335.1 806.2L340.6 806.2L346.2 806.2L351.8 806.2L357.4 806.2L363.0 806.2L368.5 806.2L374.1 806.2L379.7 806.2L385.3 806.2L390.8 806.2L396.4 806.2L402.0 806.2L407.6 806.2L413.2 806.2L418.7 806.2L424.3 806.2L429.9 806.2L435.5 806.2L441.1 806.2L446.6 806.2L452.2 806.2L457.8 806.2L463.4 806.2L468.9 806.2L474.5 806.2L480.1 806.2L485.7 806.2L491.3 806.2L496.8 806.2L502.4 806.2L508.0 806.2" fill="none" stroke="#ff00ff" stroke-width="1.0" stroke-opacity="0.85"/><path d="M106.3 801.3L111.1 809.9L101.5 809.9Z" fill="#ff00ff" stroke="#c000c0" stroke-width="0.7"/><path d="M111.9 791.7L116.7 800.3L107.1 800.3Z" fill="#ff00ff" stroke="#c000c0" stroke-width="0.7"/><path d="M117.5 777.7L122.3 786.3L112.7 786.3Z" fill="#ff00ff" stroke="#c000c0" stroke-width="0.7"/><path d="M123.1 753.8L127.9 762.4L118.3 762.4Z" fill="#ff00ff" stroke="#c000c0" stroke-width="0.7"/><path d="M128.7 723.4L133.5 732.0L123.9 732.0Z" fill="#ff00ff" stroke="#c000c0" stroke-width="0.7"/><path d="M134.2 692.5L139.0 701.1L129.4 701.1Z" fill="#ff00ff" stroke="#c000c0" stroke-width="0.7"/><path d="M139.8 661.7L144.6 670.3L135.0 670.3Z" fill="#ff00ff" stroke="#c000c0" stroke-width="0.7"/><path d="M145.4 628.8L150.2 637.4L140.6 637.4Z" fill="#ff00ff" stroke="#c000c0" stroke-width="0.7"/><path d="M151.0 605.5L155.8 614.1L146.2 614.1Z" fill="#ff00ff" stroke="#c000c0" stroke-width="0.7"/><path d="M156.5 592.6L161.3 601.2L151.7 601.2Z" fill="#ff00ff" stroke="#c000c0" stroke-width="0.7"/><path d="M162.1 577.6L166.9 586.2L157.3 586.2Z" fill="#ff00ff" stroke="#c000c0" stroke-width="0.7"/><path d="M167.7 564.7L172.5 573.3L162.9 573.3Z" fill="#ff00ff" stroke="#c000c0" stroke-width="0.7"/><path d="M173.3 560.7L178.1 569.3L168.5 569.3Z" fill="#ff00ff" stroke="#c000c0" stroke-width="0.7"/><path d="M178.9 561.1L183.7 569.7L174.1 569.7Z" fill="#ff00ff" stroke="#c000c0" stroke-width="0.7"/><path d="M184.4 555.7L189.2 564.3L179.6 564.3Z" fill="#ff00ff" stroke="#c000c0" stroke-width="0.7"/><path d="M190.0 549.8L194.8 558.4L185.2 558.4Z" fill="#ff00ff" stroke="#c000c0" stroke-width="0.7"/><path d="M195.6 569.7L200.4 578.3L190.8 578.3Z" fill="#ff00ff" stroke="#c000c0" stroke-width="0.7"/><path d="M201.2 581.7L206.0 590.3L196.4 590.3Z" fill="#ff00ff" stroke="#c000c0" stroke-width="0.7"/><path d="M206.8 584.9L211.6 593.5L202.0 593.5Z" fill="#ff00ff" stroke="#c000c0" stroke-width="0.7"/><path d="M212.3 605.7L217.1 614.3L207.5 614.3Z" fill="#ff00ff" stroke="#c000c0" stroke-width="0.7"/><path d="M217.9 614.7L222.7 623.3L213.1 623.3Z" fill="#ff00ff" stroke="#c000c0" stroke-width="0.7"/><path d="M223.5 622.9L228.3 631.5L218.7 631.5Z" fill="#ff00ff" stroke="#c000c0" stroke-width="0.7"/><path d="M229.1 633.9L233.9 642.5L224.3 642.5Z" fill="#ff00ff" stroke="#c000c0" stroke-width="0.7"/><path d="M234.6 646.1L239.4 654.7L229.8 654.7Z" fill="#ff00ff" stroke="#c000c0" stroke-width="0.7"/><path d="M240.2 656.1L245.0 664.7L235.4 664.7Z" fill="#ff00ff" stroke="#c000c0" stroke-width="0.7"/><path d="M245.8 665.4L250.6 674.0L241.0 674.0Z" fill="#ff00ff" stroke="#c000c0" stroke-width="0.7"/><path d="M251.4 678.3L256.2 686.9L246.6 686.9Z" fill="#ff00ff" stroke="#c000c0" stroke-width="0.7"/><path d="M257.0 688.8L261.8 697.4L252.2 697.4Z" fill="#ff00ff" stroke="#c000c0" stroke-width="0.7"/><path d="M262.5 699.1L267.3 707.7L257.7 707.7Z" fill="#ff00ff" stroke="#c000c0" stroke-width="0.7"/><path d="M268.1 712.7L272.9 721.3L263.3 721.3Z" fill="#ff00ff" stroke="#c000c0" stroke-width="0.7"/><path d="M273.7 727.1L278.5 735.7L268.9 735.7Z" fill="#ff00ff" stroke="#c000c0" stroke-width="0.7"/><path d="M279.3 737.1L284.1 745.7L274.5 745.7Z" fill="#ff00ff" stroke="#c000c0" stroke-width="0.7"/><path d="M284.9 747.4L289.7 756.0L280.1 756.0Z" fill="#ff00ff" stroke="#c000c0" stroke-width="0.7"/><path d="M290.4 755.5L295.2 764.1L285.6 764.1Z" fill="#ff00ff" stroke="#c000c0" stroke-width="0.7"/><path d="M296.0 763.0L300.8 771.6L291.2 771.6Z" fill="#ff00ff" stroke="#c000c0" stroke-width="0.7"/><path d="M301.6 771.4L306.4 780.0L296.8 780.0Z" fill="#ff00ff" stroke="#c000c0" stroke-width="0.7"/><path d="M307.2 779.3L312.0 787.9L302.4 787.9Z" fill="#ff00ff" stroke="#c000c0" stroke-width="0.7"/><path d="M312.7 787.3L317.5 795.9L307.9 795.9Z" fill="#ff00ff" stroke="#c000c0" stroke-width="0.7"/><path d="M318.3 798.3L323.1 806.9L313.5 806.9Z" fill="#ff00ff" stroke="#c000c0" stroke-width="0.7"/></g><g clip-path="url(#cb)"><path d="M89.6 806.2L95.2 806.2L100.8 806.2L106.3 806.2L111.9 801.6L117.5 787.0L123.1 760.5L128.7 724.9L134.2 687.0L139.8 652.6L145.4 622.4L151.0 597.6L156.5 576.6L162.1 558.4L167.7 554.3L173.3 555.3L178.9 557.8L184.4 559.6L190.0 577.9L195.6 587.9L201.2 600.4L206.8 618.4L212.3 633.2L217.9 646.7L223.5 661.2L229.1 674.2L234.6 690.6L240.2 709.4L245.8 718.1L251.4 723.8L257.0 730.7L262.5 735.0L268.1 751.4L273.7 760.0L279.3 767.6L284.9 773.9L290.4 779.2L296.0 783.7L301.6 787.8L307.2 793.8L312.7 806.2L318.3 806.2L323.9 806.2L329.5 806.2L335.1 806.2L340.6 793.2L346.2 804.0L351.8 806.2L357.4 806.2L363.0 806.2L368.5 806.2L374.1 802.2L379.7 802.0L385.3 806.2L390.8 806.2L396.4 806.2L402.0 806.2L407.6 806.2L413.2 806.2L418.7 806.2L424.3 806.2L429.9 806.2L435.5 806.2L441.1 806.2L446.6 806.2L452.2 806.2L457.8 806.2L463.4 806.2L468.9 806.2L474.5 806.2L480.1 806.2L485.7 806.2L491.3 806.2L496.8 806.2L502.4 806.2L508.0 806.2" fill="none" stroke="#808000" stroke-width="1.0" stroke-opacity="0.85"/><path d="M111.9 797.3L116.7 805.9L107.1 805.9Z" fill="#808000" stroke="#5a5a00" stroke-width="0.7"/><path d="M117.5 782.7L122.3 791.3L112.7 791.3Z" fill="#808000" stroke="#5a5a00" stroke-width="0.7"/><path d="M123.1 756.2L127.9 764.8L118.3 764.8Z" fill="#808000" stroke="#5a5a00" stroke-width="0.7"/><path d="M128.7 720.6L133.5 729.2L123.9 729.2Z" fill="#808000" stroke="#5a5a00" stroke-width="0.7"/><path d="M134.2 682.7L139.0 691.3L129.4 691.3Z" fill="#808000" stroke="#5a5a00" stroke-width="0.7"/><path d="M139.8 648.3L144.6 656.9L135.0 656.9Z" fill="#808000" stroke="#5a5a00" stroke-width="0.7"/><path d="M145.4 618.1L150.2 626.7L140.6 626.7Z" fill="#808000" stroke="#5a5a00" stroke-width="0.7"/><path d="M151.0 593.3L155.8 601.9L146.2 601.9Z" fill="#808000" stroke="#5a5a00" stroke-width="0.7"/><path d="M156.5 572.3L161.3 580.9L151.7 580.9Z" fill="#808000" stroke="#5a5a00" stroke-width="0.7"/><path d="M162.1 554.1L166.9 562.7L157.3 562.7Z" fill="#808000" stroke="#5a5a00" stroke-width="0.7"/><path d="M167.7 550.0L172.5 558.6L162.9 558.6Z" fill="#808000" stroke="#5a5a00" stroke-width="0.7"/><path d="M173.3 551.0L178.1 559.6L168.5 559.6Z" fill="#808000" stroke="#5a5a00" stroke-width="0.7"/><path d="M178.9 553.5L183.7 562.1L174.1 562.1Z" fill="#808000" stroke="#5a5a00" stroke-width="0.7"/><path d="M184.4 555.3L189.2 563.9L179.6 563.9Z" fill="#808000" stroke="#5a5a00" stroke-width="0.7"/><path d="M190.0 573.6L194.8 582.2L185.2 582.2Z" fill="#808000" stroke="#5a5a00" stroke-width="0.7"/><path d="M195.6 583.6L200.4 592.2L190.8 592.2Z" fill="#808000" stroke="#5a5a00" stroke-width="0.7"/><path d="M201.2 596.1L206.0 604.7L196.4 604.7Z" fill="#808000" stroke="#5a5a00" stroke-width="0.7"/><path d="M206.8 614.1L211.6 622.7L202.0 622.7Z" fill="#808000" stroke="#5a5a00" stroke-width="0.7"/><path d="M212.3 628.9L217.1 637.5L207.5 637.5Z" fill="#808000" stroke="#5a5a00" stroke-width="0.7"/><path d="M217.9 642.4L222.7 651.0L213.1 651.0Z" fill="#808000" stroke="#5a5a00" stroke-width="0.7"/><path d="M223.5 656.9L228.3 665.5L218.7 665.5Z" fill="#808000" stroke="#5a5a00" stroke-width="0.7"/><path d="M229.1 669.9L233.9 678.5L224.3 678.5Z" fill="#808000" stroke="#5a5a00" stroke-width="0.7"/><path d="M234.6 686.3L239.4 694.9L229.8 694.9Z" fill="#808000" stroke="#5a5a00" stroke-width="0.7"/><path d="M240.2 705.1L245.0 713.7L235.4 713.7Z" fill="#808000" stroke="#5a5a00" stroke-width="0.7"/><path d="M245.8 713.8L250.6 722.4L241.0 722.4Z" fill="#808000" stroke="#5a5a00" stroke-width="0.7"/><path d="M251.4 719.5L256.2 728.1L246.6 728.1Z" fill="#808000" stroke="#5a5a00" stroke-width="0.7"/><path d="M257.0 726.4L261.8 735.0L252.2 735.0Z" fill="#808000" stroke="#5a5a00" stroke-width="0.7"/><path d="M262.5 730.7L267.3 739.3L257.7 739.3Z" fill="#808000" stroke="#5a5a00" stroke-width="0.7"/><path d="M268.1 747.1L272.9 755.7L263.3 755.7Z" fill="#808000" stroke="#5a5a00" stroke-width="0.7"/><path d="M273.7 755.7L278.5 764.3L268.9 764.3Z" fill="#808000" stroke="#5a5a00" stroke-width="0.7"/><path d="M279.3 763.3L284.1 771.9L274.5 771.9Z" fill="#808000" stroke="#5a5a00" stroke-width="0.7"/><path d="M284.9 769.6L289.7 778.2L280.1 778.2Z" fill="#808000" stroke="#5a5a00" stroke-width="0.7"/><path d="M290.4 774.9L295.2 783.5L285.6 783.5Z" fill="#808000" stroke="#5a5a00" stroke-width="0.7"/><path d="M296.0 779.4L300.8 788.0L291.2 788.0Z" fill="#808000" stroke="#5a5a00" stroke-width="0.7"/><path d="M301.6 783.5L306.4 792.1L296.8 792.1Z" fill="#808000" stroke="#5a5a00" stroke-width="0.7"/><path d="M307.2 789.5L312.0 798.1L302.4 798.1Z" fill="#808000" stroke="#5a5a00" stroke-width="0.7"/><path d="M340.6 788.9L345.4 797.5L335.8 797.5Z" fill="#808000" stroke="#5a5a00" stroke-width="0.7"/><path d="M346.2 799.7L351.0 808.3L341.4 808.3Z" fill="#808000" stroke="#5a5a00" stroke-width="0.7"/><path d="M374.1 797.9L378.9 806.5L369.3 806.5Z" fill="#808000" stroke="#5a5a00" stroke-width="0.7"/><path d="M379.7 797.7L384.5 806.3L374.9 806.3Z" fill="#808000" stroke="#5a5a00" stroke-width="0.7"/></g><g clip-path="url(#cb)"><path d="M89.6 806.2L95.2 806.2L100.8 806.2L106.3 806.2L111.9 801.8L117.5 792.7L123.1 775.2L128.7 747.4L134.2 713.4L139.8 686.9L145.4 665.9L151.0 648.9L156.5 628.9L162.1 612.9L167.7 606.8L173.3 599.0L178.9 595.0L184.4 588.9L190.0 589.6L195.6 596.4L201.2 602.9L206.8 605.7L212.3 615.1L217.9 625.0L223.5 640.2L229.1 655.0L234.6 663.5L240.2 670.2L245.8 676.5L251.4 688.6L257.0 698.3L262.5 709.1L268.1 720.2L273.7 734.2L279.3 747.8L284.9 749.9L290.4 754.3L296.0 758.7L301.6 764.6L307.2 769.6L312.7 775.1L318.3 782.0L323.9 788.5L329.5 791.0L335.1 795.4L340.6 806.2L346.2 806.2L351.8 806.2L357.4 806.2L363.0 806.2L368.5 806.2L374.1 806.2L379.7 806.2L385.3 806.2L390.8 806.2L396.4 806.2L402.0 806.2L407.6 806.2L413.2 806.2L418.7 806.2L424.3 806.2L429.9 806.2L435.5 806.2L441.1 806.2L446.6 806.2L452.2 806.2L457.8 806.2L463.4 806.2L468.9 806.2L474.5 806.2L480.1 806.2L485.7 806.2L491.3 806.2L496.8 806.2L502.4 806.2L508.0 806.2" fill="none" stroke="#008000" stroke-width="1.0" stroke-opacity="0.85"/><path d="M111.9 797.5L116.7 806.1L107.1 806.1Z" fill="#008000" stroke="#005a00" stroke-width="0.7"/><path d="M117.5 788.4L122.3 797.0L112.7 797.0Z" fill="#008000" stroke="#005a00" stroke-width="0.7"/><path d="M123.1 770.9L127.9 779.5L118.3 779.5Z" fill="#008000" stroke="#005a00" stroke-width="0.7"/><path d="M128.7 743.1L133.5 751.7L123.9 751.7Z" fill="#008000" stroke="#005a00" stroke-width="0.7"/><path d="M134.2 709.1L139.0 717.7L129.4 717.7Z" fill="#008000" stroke="#005a00" stroke-width="0.7"/><path d="M139.8 682.6L144.6 691.2L135.0 691.2Z" fill="#008000" stroke="#005a00" stroke-width="0.7"/><path d="M145.4 661.6L150.2 670.2L140.6 670.2Z" fill="#008000" stroke="#005a00" stroke-width="0.7"/><path d="M151.0 644.6L155.8 653.2L146.2 653.2Z" fill="#008000" stroke="#005a00" stroke-width="0.7"/><path d="M156.5 624.6L161.3 633.2L151.7 633.2Z" fill="#008000" stroke="#005a00" stroke-width="0.7"/><path d="M162.1 608.6L166.9 617.2L157.3 617.2Z" fill="#008000" stroke="#005a00" stroke-width="0.7"/><path d="M167.7 602.5L172.5 611.1L162.9 611.1Z" fill="#008000" stroke="#005a00" stroke-width="0.7"/><path d="M173.3 594.7L178.1 603.3L168.5 603.3Z" fill="#008000" stroke="#005a00" stroke-width="0.7"/><path d="M178.9 590.7L183.7 599.3L174.1 599.3Z" fill="#008000" stroke="#005a00" stroke-width="0.7"/><path d="M184.4 584.6L189.2 593.2L179.6 593.2Z" fill="#008000" stroke="#005a00" stroke-width="0.7"/><path d="M190.0 585.3L194.8 593.9L185.2 593.9Z" fill="#008000" stroke="#005a00" stroke-width="0.7"/><path d="M195.6 592.1L200.4 600.7L190.8 600.7Z" fill="#008000" stroke="#005a00" stroke-width="0.7"/><path d="M201.2 598.6L206.0 607.2L196.4 607.2Z" fill="#008000" stroke="#005a00" stroke-width="0.7"/><path d="M206.8 601.4L211.6 610.0L202.0 610.0Z" fill="#008000" stroke="#005a00" stroke-width="0.7"/><path d="M212.3 610.8L217.1 619.4L207.5 619.4Z" fill="#008000" stroke="#005a00" stroke-width="0.7"/><path d="M217.9 620.7L222.7 629.3L213.1 629.3Z" fill="#008000" stroke="#005a00" stroke-width="0.7"/><path d="M223.5 635.9L228.3 644.5L218.7 644.5Z" fill="#008000" stroke="#005a00" stroke-width="0.7"/><path d="M229.1 650.7L233.9 659.3L224.3 659.3Z" fill="#008000" stroke="#005a00" stroke-width="0.7"/><path d="M234.6 659.2L239.4 667.8L229.8 667.8Z" fill="#008000" stroke="#005a00" stroke-width="0.7"/><path d="M240.2 665.9L245.0 674.5L235.4 674.5Z" fill="#008000" stroke="#005a00" stroke-width="0.7"/><path d="M245.8 672.2L250.6 680.8L241.0 680.8Z" fill="#008000" stroke="#005a00" stroke-width="0.7"/><path d="M251.4 684.3L256.2 692.9L246.6 692.9Z" fill="#008000" stroke="#005a00" stroke-width="0.7"/><path d="M257.0 694.0L261.8 702.6L252.2 702.6Z" fill="#008000" stroke="#005a00" stroke-width="0.7"/><path d="M262.5 704.8L267.3 713.4L257.7 713.4Z" fill="#008000" stroke="#005a00" stroke-width="0.7"/><path d="M268.1 715.9L272.9 724.5L263.3 724.5Z" fill="#008000" stroke="#005a00" stroke-width="0.7"/><path d="M273.7 729.9L278.5 738.5L268.9 738.5Z" fill="#008000" stroke="#005a00" stroke-width="0.7"/><path d="M279.3 743.5L284.1 752.1L274.5 752.1Z" fill="#008000" stroke="#005a00" stroke-width="0.7"/><path d="M284.9 745.6L289.7 754.2L280.1 754.2Z" fill="#008000" stroke="#005a00" stroke-width="0.7"/><path d="M290.4 750.0L295.2 758.6L285.6 758.6Z" fill="#008000" stroke="#005a00" stroke-width="0.7"/><path d="M296.0 754.4L300.8 763.0L291.2 763.0Z" fill="#008000" stroke="#005a00" stroke-width="0.7"/><path d="M301.6 760.3L306.4 768.9L296.8 768.9Z" fill="#008000" stroke="#005a00" stroke-width="0.7"/><path d="M307.2 765.3L312.0 773.9L302.4 773.9Z" fill="#008000" stroke="#005a00" stroke-width="0.7"/><path d="M312.7 770.8L317.5 779.4L307.9 779.4Z" fill="#008000" stroke="#005a00" stroke-width="0.7"/><path d="M318.3 777.7L323.1 786.3L313.5 786.3Z" fill="#008000" stroke="#005a00" stroke-width="0.7"/><path d="M323.9 784.2L328.7 792.8L319.1 792.8Z" fill="#008000" stroke="#005a00" stroke-width="0.7"/><path d="M329.5 786.7L334.3 795.3L324.7 795.3Z" fill="#008000" stroke="#005a00" stroke-width="0.7"/><path d="M335.1 791.1L339.9 799.7L330.3 799.7Z" fill="#008000" stroke="#005a00" stroke-width="0.7"/></g><g clip-path="url(#cb)"><path d="M89.6 806.2L95.2 806.2L100.8 806.2L106.3 806.2L111.9 804.0L117.5 797.1L123.1 786.7L128.7 771.0L134.2 752.0L139.8 731.8L145.4 714.6L151.0 702.0L156.5 686.4L162.1 664.4L167.7 650.4L173.3 639.7L178.9 627.6L184.4 617.6L190.0 618.2L195.6 620.8L201.2 623.3L206.8 627.1L212.3 629.7L217.9 632.9L223.5 639.7L229.1 644.0L234.6 651.6L240.2 660.4L245.8 663.2L251.4 676.8L257.0 687.9L262.5 695.4L268.1 705.3L273.7 721.7L279.3 727.4L284.9 732.9L290.4 738.3L296.0 744.0L301.6 748.3L307.2 750.7L312.7 749.7L318.3 781.1L323.9 779.9L329.5 779.5L335.1 785.1L340.6 789.3L346.2 783.5L351.8 795.7L357.4 800.0L363.0 799.3L368.5 805.7L374.1 806.2L379.7 806.2L385.3 806.2L390.8 806.2L396.4 806.2L402.0 806.2L407.6 806.2L413.2 806.2L418.7 806.2L424.3 806.2L429.9 806.2L435.5 806.2L441.1 806.2L446.6 806.2L452.2 806.2L457.8 806.2L463.4 806.2L468.9 806.2L474.5 806.2L480.1 806.2L485.7 806.2L491.3 806.2L496.8 806.2L502.4 806.2L508.0 806.2" fill="none" stroke="#008080" stroke-width="1.0" stroke-opacity="0.85"/><path d="M111.9 799.7L116.7 808.3L107.1 808.3Z" fill="#008080" stroke="#005a5a" stroke-width="0.7"/><path d="M117.5 792.8L122.3 801.4L112.7 801.4Z" fill="#008080" stroke="#005a5a" stroke-width="0.7"/><path d="M123.1 782.4L127.9 791.0L118.3 791.0Z" fill="#008080" stroke="#005a5a" stroke-width="0.7"/><path d="M128.7 766.7L133.5 775.3L123.9 775.3Z" fill="#008080" stroke="#005a5a" stroke-width="0.7"/><path d="M134.2 747.7L139.0 756.3L129.4 756.3Z" fill="#008080" stroke="#005a5a" stroke-width="0.7"/><path d="M139.8 727.5L144.6 736.1L135.0 736.1Z" fill="#008080" stroke="#005a5a" stroke-width="0.7"/><path d="M145.4 710.3L150.2 718.9L140.6 718.9Z" fill="#008080" stroke="#005a5a" stroke-width="0.7"/><path d="M151.0 697.7L155.8 706.3L146.2 706.3Z" fill="#008080" stroke="#005a5a" stroke-width="0.7"/><path d="M156.5 682.1L161.3 690.7L151.7 690.7Z" fill="#008080" stroke="#005a5a" stroke-width="0.7"/><path d="M162.1 660.1L166.9 668.7L157.3 668.7Z" fill="#008080" stroke="#005a5a" stroke-width="0.7"/><path d="M167.7 646.1L172.5 654.7L162.9 654.7Z" fill="#008080" stroke="#005a5a" stroke-width="0.7"/><path d="M173.3 635.4L178.1 644.0L168.5 644.0Z" fill="#008080" stroke="#005a5a" stroke-width="0.7"/><path d="M178.9 623.3L183.7 631.9L174.1 631.9Z" fill="#008080" stroke="#005a5a" stroke-width="0.7"/><path d="M184.4 613.3L189.2 621.9L179.6 621.9Z" fill="#008080" stroke="#005a5a" stroke-width="0.7"/><path d="M190.0 613.9L194.8 622.5L185.2 622.5Z" fill="#008080" stroke="#005a5a" stroke-width="0.7"/><path d="M195.6 616.5L200.4 625.1L190.8 625.1Z" fill="#008080" stroke="#005a5a" stroke-width="0.7"/><path d="M201.2 619.0L206.0 627.6L196.4 627.6Z" fill="#008080" stroke="#005a5a" stroke-width="0.7"/><path d="M206.8 622.8L211.6 631.4L202.0 631.4Z" fill="#008080" stroke="#005a5a" stroke-width="0.7"/><path d="M212.3 625.4L217.1 634.0L207.5 634.0Z" fill="#008080" stroke="#005a5a" stroke-width="0.7"/><path d="M217.9 628.6L222.7 637.2L213.1 637.2Z" fill="#008080" stroke="#005a5a" stroke-width="0.7"/><path d="M223.5 635.4L228.3 644.0L218.7 644.0Z" fill="#008080" stroke="#005a5a" stroke-width="0.7"/><path d="M229.1 639.7L233.9 648.3L224.3 648.3Z" fill="#008080" stroke="#005a5a" stroke-width="0.7"/><path d="M234.6 647.3L239.4 655.9L229.8 655.9Z" fill="#008080" stroke="#005a5a" stroke-width="0.7"/><path d="M240.2 656.1L245.0 664.7L235.4 664.7Z" fill="#008080" stroke="#005a5a" stroke-width="0.7"/><path d="M245.8 658.9L250.6 667.5L241.0 667.5Z" fill="#008080" stroke="#005a5a" stroke-width="0.7"/><path d="M251.4 672.5L256.2 681.1L246.6 681.1Z" fill="#008080" stroke="#005a5a" stroke-width="0.7"/><path d="M257.0 683.6L261.8 692.2L252.2 692.2Z" fill="#008080" stroke="#005a5a" stroke-width="0.7"/><path d="M262.5 691.1L267.3 699.7L257.7 699.7Z" fill="#008080" stroke="#005a5a" stroke-width="0.7"/><path d="M268.1 701.0L272.9 709.6L263.3 709.6Z" fill="#008080" stroke="#005a5a" stroke-width="0.7"/><path d="M273.7 717.4L278.5 726.0L268.9 726.0Z" fill="#008080" stroke="#005a5a" stroke-width="0.7"/><path d="M279.3 723.1L284.1 731.7L274.5 731.7Z" fill="#008080" stroke="#005a5a" stroke-width="0.7"/><path d="M284.9 728.6L289.7 737.2L280.1 737.2Z" fill="#008080" stroke="#005a5a" stroke-width="0.7"/><path d="M290.4 734.0L295.2 742.6L285.6 742.6Z" fill="#008080" stroke="#005a5a" stroke-width="0.7"/><path d="M296.0 739.7L300.8 748.3L291.2 748.3Z" fill="#008080" stroke="#005a5a" stroke-width="0.7"/><path d="M301.6 744.0L306.4 752.6L296.8 752.6Z" fill="#008080" stroke="#005a5a" stroke-width="0.7"/><path d="M307.2 746.4L312.0 755.0L302.4 755.0Z" fill="#008080" stroke="#005a5a" stroke-width="0.7"/><path d="M312.7 745.4L317.5 754.0L307.9 754.0Z" fill="#008080" stroke="#005a5a" stroke-width="0.7"/><path d="M318.3 776.8L323.1 785.4L313.5 785.4Z" fill="#008080" stroke="#005a5a" stroke-width="0.7"/><path d="M323.9 775.6L328.7 784.2L319.1 784.2Z" fill="#008080" stroke="#005a5a" stroke-width="0.7"/><path d="M329.5 775.2L334.3 783.8L324.7 783.8Z" fill="#008080" stroke="#005a5a" stroke-width="0.7"/><path d="M335.1 780.8L339.9 789.4L330.3 789.4Z" fill="#008080" stroke="#005a5a" stroke-width="0.7"/><path d="M340.6 785.0L345.4 793.6L335.8 793.6Z" fill="#008080" stroke="#005a5a" stroke-width="0.7"/><path d="M346.2 779.2L351.0 787.8L341.4 787.8Z" fill="#008080" stroke="#005a5a" stroke-width="0.7"/><path d="M351.8 791.4L356.6 800.0L347.0 800.0Z" fill="#008080" stroke="#005a5a" stroke-width="0.7"/><path d="M357.4 795.7L362.2 804.3L352.6 804.3Z" fill="#008080" stroke="#005a5a" stroke-width="0.7"/><path d="M363.0 795.0L367.8 803.6L358.2 803.6Z" fill="#008080" stroke="#005a5a" stroke-width="0.7"/><path d="M368.5 801.4L373.3 810.0L363.7 810.0Z" fill="#008080" stroke="#005a5a" stroke-width="0.7"/></g><g clip-path="url(#cb)"><path d="M89.6 806.2L95.2 806.2L100.8 806.2L106.3 806.2L111.9 804.5L117.5 797.2L123.1 785.9L128.7 773.5L134.2 759.5L139.8 746.4L145.4 730.0L151.0 712.9L156.5 702.2L162.1 697.1L167.7 693.7L173.3 690.9L178.9 687.8L184.4 695.3L190.0 702.1L195.6 706.2L201.2 706.0L206.8 709.3L212.3 721.4L217.9 719.1L223.5 715.8L229.1 738.6L234.6 746.6L240.2 745.7L245.8 746.8L251.4 753.1L257.0 768.5L262.5 766.2L268.1 770.1L273.7 773.5L279.3 775.8L284.9 778.8L290.4 785.5L296.0 791.4L301.6 796.9L307.2 802.9L312.7 806.2L318.3 806.2L323.9 806.2L329.5 806.2L335.1 806.2L340.6 806.2L346.2 806.2L351.8 806.2L357.4 806.2L363.0 806.2L368.5 806.2L374.1 806.2L379.7 806.2L385.3 806.2L390.8 806.2L396.4 806.2L402.0 806.2L407.6 806.2L413.2 806.2L418.7 806.2L424.3 806.2L429.9 806.2L435.5 806.2L441.1 806.2L446.6 806.2L452.2 806.2L457.8 806.2L463.4 806.2L468.9 806.2L474.5 806.2L480.1 806.2L485.7 806.2L491.3 806.2L496.8 806.2L502.4 806.2L508.0 806.2" fill="none" stroke="#00ffff" stroke-width="1.0" stroke-opacity="0.85"/><path d="M111.9 800.2L116.7 808.8L107.1 808.8Z" fill="#00ffff" stroke="#00c8d8" stroke-width="0.7"/><path d="M117.5 792.9L122.3 801.5L112.7 801.5Z" fill="#00ffff" stroke="#00c8d8" stroke-width="0.7"/><path d="M123.1 781.6L127.9 790.2L118.3 790.2Z" fill="#00ffff" stroke="#00c8d8" stroke-width="0.7"/><path d="M128.7 769.2L133.5 777.8L123.9 777.8Z" fill="#00ffff" stroke="#00c8d8" stroke-width="0.7"/><path d="M134.2 755.2L139.0 763.8L129.4 763.8Z" fill="#00ffff" stroke="#00c8d8" stroke-width="0.7"/><path d="M139.8 742.1L144.6 750.7L135.0 750.7Z" fill="#00ffff" stroke="#00c8d8" stroke-width="0.7"/><path d="M145.4 725.7L150.2 734.3L140.6 734.3Z" fill="#00ffff" stroke="#00c8d8" stroke-width="0.7"/><path d="M151.0 708.6L155.8 717.2L146.2 717.2Z" fill="#00ffff" stroke="#00c8d8" stroke-width="0.7"/><path d="M156.5 697.9L161.3 706.5L151.7 706.5Z" fill="#00ffff" stroke="#00c8d8" stroke-width="0.7"/><path d="M162.1 692.8L166.9 701.4L157.3 701.4Z" fill="#00ffff" stroke="#00c8d8" stroke-width="0.7"/><path d="M167.7 689.4L172.5 698.0L162.9 698.0Z" fill="#00ffff" stroke="#00c8d8" stroke-width="0.7"/><path d="M173.3 686.6L178.1 695.2L168.5 695.2Z" fill="#00ffff" stroke="#00c8d8" stroke-width="0.7"/><path d="M178.9 683.5L183.7 692.1L174.1 692.1Z" fill="#00ffff" stroke="#00c8d8" stroke-width="0.7"/><path d="M184.4 691.0L189.2 699.6L179.6 699.6Z" fill="#00ffff" stroke="#00c8d8" stroke-width="0.7"/><path d="M190.0 697.8L194.8 706.4L185.2 706.4Z" fill="#00ffff" stroke="#00c8d8" stroke-width="0.7"/><path d="M195.6 701.9L200.4 710.5L190.8 710.5Z" fill="#00ffff" stroke="#00c8d8" stroke-width="0.7"/><path d="M201.2 701.7L206.0 710.3L196.4 710.3Z" fill="#00ffff" stroke="#00c8d8" stroke-width="0.7"/><path d="M206.8 705.0L211.6 713.6L202.0 713.6Z" fill="#00ffff" stroke="#00c8d8" stroke-width="0.7"/><path d="M212.3 717.1L217.1 725.7L207.5 725.7Z" fill="#00ffff" stroke="#00c8d8" stroke-width="0.7"/><path d="M217.9 714.8L222.7 723.4L213.1 723.4Z" fill="#00ffff" stroke="#00c8d8" stroke-width="0.7"/><path d="M223.5 711.5L228.3 720.1L218.7 720.1Z" fill="#00ffff" stroke="#00c8d8" stroke-width="0.7"/><path d="M229.1 734.3L233.9 742.9L224.3 742.9Z" fill="#00ffff" stroke="#00c8d8" stroke-width="0.7"/><path d="M234.6 742.3L239.4 750.9L229.8 750.9Z" fill="#00ffff" stroke="#00c8d8" stroke-width="0.7"/><path d="M240.2 741.4L245.0 750.0L235.4 750.0Z" fill="#00ffff" stroke="#00c8d8" stroke-width="0.7"/><path d="M245.8 742.5L250.6 751.1L241.0 751.1Z" fill="#00ffff" stroke="#00c8d8" stroke-width="0.7"/><path d="M251.4 748.8L256.2 757.4L246.6 757.4Z" fill="#00ffff" stroke="#00c8d8" stroke-width="0.7"/><path d="M257.0 764.2L261.8 772.8L252.2 772.8Z" fill="#00ffff" stroke="#00c8d8" stroke-width="0.7"/><path d="M262.5 761.9L267.3 770.5L257.7 770.5Z" fill="#00ffff" stroke="#00c8d8" stroke-width="0.7"/><path d="M268.1 765.8L272.9 774.4L263.3 774.4Z" fill="#00ffff" stroke="#00c8d8" stroke-width="0.7"/><path d="M273.7 769.2L278.5 777.8L268.9 777.8Z" fill="#00ffff" stroke="#00c8d8" stroke-width="0.7"/><path d="M279.3 771.5L284.1 780.1L274.5 780.1Z" fill="#00ffff" stroke="#00c8d8" stroke-width="0.7"/><path d="M284.9 774.5L289.7 783.1L280.1 783.1Z" fill="#00ffff" stroke="#00c8d8" stroke-width="0.7"/><path d="M290.4 781.2L295.2 789.8L285.6 789.8Z" fill="#00ffff" stroke="#00c8d8" stroke-width="0.7"/><path d="M296.0 787.1L300.8 795.7L291.2 795.7Z" fill="#00ffff" stroke="#00c8d8" stroke-width="0.7"/><path d="M301.6 792.6L306.4 801.2L296.8 801.2Z" fill="#00ffff" stroke="#00c8d8" stroke-width="0.7"/><path d="M307.2 798.6L312.0 807.2L302.4 807.2Z" fill="#00ffff" stroke="#00c8d8" stroke-width="0.7"/></g><line x1="89.8" y1="806.2" x2="98.2" y2="806.2" stroke="#111" stroke-width="1.7"/><line x1="508" y1="806.2" x2="499.6" y2="806.2" stroke="#111" stroke-width="1.7"/><line x1="89.8" y1="778.0" x2="94.0" y2="778.0" stroke="#111" stroke-width="1.7"/><line x1="508" y1="778.0" x2="503.8" y2="778.0" stroke="#111" stroke-width="1.7"/><line x1="89.8" y1="749.7" x2="98.2" y2="749.7" stroke="#111" stroke-width="1.7"/><line x1="508" y1="749.7" x2="499.6" y2="749.7" stroke="#111" stroke-width="1.7"/><line x1="89.8" y1="721.5" x2="94.0" y2="721.5" stroke="#111" stroke-width="1.7"/><line x1="508" y1="721.5" x2="503.8" y2="721.5" stroke="#111" stroke-width="1.7"/><line x1="89.8" y1="693.2" x2="98.2" y2="693.2" stroke="#111" stroke-width="1.7"/><line x1="508" y1="693.2" x2="499.6" y2="693.2" stroke="#111" stroke-width="1.7"/><line x1="89.8" y1="665.0" x2="94.0" y2="665.0" stroke="#111" stroke-width="1.7"/><line x1="508" y1="665.0" x2="503.8" y2="665.0" stroke="#111" stroke-width="1.7"/><line x1="89.8" y1="636.7" x2="98.2" y2="636.7" stroke="#111" stroke-width="1.7"/><line x1="508" y1="636.7" x2="499.6" y2="636.7" stroke="#111" stroke-width="1.7"/><line x1="89.8" y1="608.5" x2="94.0" y2="608.5" stroke="#111" stroke-width="1.7"/><line x1="508" y1="608.5" x2="503.8" y2="608.5" stroke="#111" stroke-width="1.7"/><line x1="89.8" y1="580.2" x2="98.2" y2="580.2" stroke="#111" stroke-width="1.7"/><line x1="508" y1="580.2" x2="499.6" y2="580.2" stroke="#111" stroke-width="1.7"/><line x1="89.8" y1="552.0" x2="94.0" y2="552.0" stroke="#111" stroke-width="1.7"/><line x1="508" y1="552.0" x2="503.8" y2="552.0" stroke="#111" stroke-width="1.7"/><line x1="89.8" y1="523.7" x2="98.2" y2="523.7" stroke="#111" stroke-width="1.7"/><line x1="508" y1="523.7" x2="499.6" y2="523.7" stroke="#111" stroke-width="1.7"/><line x1="89.8" y1="495.4" x2="94.0" y2="495.4" stroke="#111" stroke-width="1.7"/><line x1="508" y1="495.4" x2="503.8" y2="495.4" stroke="#111" stroke-width="1.7"/><line x1="89.8" y1="467.2" x2="98.2" y2="467.2" stroke="#111" stroke-width="1.7"/><line x1="508" y1="467.2" x2="499.6" y2="467.2" stroke="#111" stroke-width="1.7"/><line x1="89.8" y1="467.2" x2="89.8" y2="476.2" stroke="#111" stroke-width="1.7"/><line x1="89.8" y1="806.2" x2="89.8" y2="797.2" stroke="#111" stroke-width="1.7"/><line x1="117.7" y1="467.2" x2="117.7" y2="471.7" stroke="#111" stroke-width="1.7"/><line x1="117.7" y1="806.2" x2="117.7" y2="801.7" stroke="#111" stroke-width="1.7"/><line x1="145.6" y1="467.2" x2="145.6" y2="471.7" stroke="#111" stroke-width="1.7"/><line x1="145.6" y1="806.2" x2="145.6" y2="801.7" stroke="#111" stroke-width="1.7"/><line x1="173.4" y1="467.2" x2="173.4" y2="476.2" stroke="#111" stroke-width="1.7"/><line x1="173.4" y1="806.2" x2="173.4" y2="797.2" stroke="#111" stroke-width="1.7"/><line x1="201.3" y1="467.2" x2="201.3" y2="471.7" stroke="#111" stroke-width="1.7"/><line x1="201.3" y1="806.2" x2="201.3" y2="801.7" stroke="#111" stroke-width="1.7"/><line x1="229.2" y1="467.2" x2="229.2" y2="471.7" stroke="#111" stroke-width="1.7"/><line x1="229.2" y1="806.2" x2="229.2" y2="801.7" stroke="#111" stroke-width="1.7"/><line x1="257.1" y1="467.2" x2="257.1" y2="476.2" stroke="#111" stroke-width="1.7"/><line x1="257.1" y1="806.2" x2="257.1" y2="797.2" stroke="#111" stroke-width="1.7"/><line x1="285.0" y1="467.2" x2="285.0" y2="471.7" stroke="#111" stroke-width="1.7"/><line x1="285.0" y1="806.2" x2="285.0" y2="801.7" stroke="#111" stroke-width="1.7"/><line x1="312.8" y1="467.2" x2="312.8" y2="471.7" stroke="#111" stroke-width="1.7"/><line x1="312.8" y1="806.2" x2="312.8" y2="801.7" stroke="#111" stroke-width="1.7"/><line x1="340.7" y1="467.2" x2="340.7" y2="476.2" stroke="#111" stroke-width="1.7"/><line x1="340.7" y1="806.2" x2="340.7" y2="797.2" stroke="#111" stroke-width="1.7"/><line x1="368.6" y1="467.2" x2="368.6" y2="471.7" stroke="#111" stroke-width="1.7"/><line x1="368.6" y1="806.2" x2="368.6" y2="801.7" stroke="#111" stroke-width="1.7"/><line x1="396.5" y1="467.2" x2="396.5" y2="471.7" stroke="#111" stroke-width="1.7"/><line x1="396.5" y1="806.2" x2="396.5" y2="801.7" stroke="#111" stroke-width="1.7"/><line x1="424.4" y1="467.2" x2="424.4" y2="476.2" stroke="#111" stroke-width="1.7"/><line x1="424.4" y1="806.2" x2="424.4" y2="797.2" stroke="#111" stroke-width="1.7"/><line x1="452.2" y1="467.2" x2="452.2" y2="471.7" stroke="#111" stroke-width="1.7"/><line x1="452.2" y1="806.2" x2="452.2" y2="801.7" stroke="#111" stroke-width="1.7"/><line x1="480.1" y1="467.2" x2="480.1" y2="471.7" stroke="#111" stroke-width="1.7"/><line x1="480.1" y1="806.2" x2="480.1" y2="801.7" stroke="#111" stroke-width="1.7"/><line x1="508.0" y1="467.2" x2="508.0" y2="476.2" stroke="#111" stroke-width="1.7"/><line x1="508.0" y1="806.2" x2="508.0" y2="797.2" stroke="#111" stroke-width="1.7"/><g clip-path="url(#cb)"><rect x="88.8" y="802.8" width="420.2" height="4.1" fill="#6e1232"/><circle cx="89.8" cy="802.6" r="2.5" fill="#6e1232"/><circle cx="95.4" cy="802.6" r="2.5" fill="#6e1232"/><circle cx="101.0" cy="802.6" r="2.5" fill="#6e1232"/><circle cx="106.5" cy="802.6" r="2.5" fill="#6e1232"/><circle cx="112.1" cy="802.6" r="2.5" fill="#6e1232"/><circle cx="117.7" cy="802.6" r="2.5" fill="#6e1232"/><circle cx="123.3" cy="802.6" r="2.5" fill="#6e1232"/><circle cx="128.9" cy="802.6" r="2.5" fill="#6e1232"/><circle cx="134.4" cy="802.6" r="2.5" fill="#6e1232"/><circle cx="140.0" cy="802.6" r="2.5" fill="#6e1232"/><circle cx="145.6" cy="802.6" r="2.5" fill="#6e1232"/><circle cx="151.2" cy="802.6" r="2.5" fill="#6e1232"/><circle cx="156.7" cy="802.6" r="2.5" fill="#6e1232"/><circle cx="162.3" cy="802.6" r="2.5" fill="#6e1232"/><circle cx="167.9" cy="802.6" r="2.5" fill="#6e1232"/><circle cx="173.5" cy="802.6" r="2.5" fill="#6e1232"/><circle cx="179.1" cy="802.6" r="2.5" fill="#6e1232"/><circle cx="184.6" cy="802.6" r="2.5" fill="#6e1232"/><circle cx="190.2" cy="802.6" r="2.5" fill="#6e1232"/><circle cx="195.8" cy="802.6" r="2.5" fill="#6e1232"/><circle cx="201.4" cy="802.6" r="2.5" fill="#6e1232"/><circle cx="207.0" cy="802.6" r="2.5" fill="#6e1232"/><circle cx="212.5" cy="802.6" r="2.5" fill="#6e1232"/><circle cx="218.1" cy="802.6" r="2.5" fill="#6e1232"/><circle cx="223.7" cy="802.6" r="2.5" fill="#6e1232"/><circle cx="229.3" cy="802.6" r="2.5" fill="#6e1232"/><circle cx="234.8" cy="802.6" r="2.5" fill="#6e1232"/><circle cx="240.4" cy="802.6" r="2.5" fill="#6e1232"/><circle cx="246.0" cy="802.6" r="2.5" fill="#6e1232"/><circle cx="251.6" cy="802.6" r="2.5" fill="#6e1232"/><circle cx="257.2" cy="802.6" r="2.5" fill="#6e1232"/><circle cx="262.7" cy="802.6" r="2.5" fill="#6e1232"/><circle cx="268.3" cy="802.6" r="2.5" fill="#6e1232"/><circle cx="273.9" cy="802.6" r="2.5" fill="#6e1232"/><circle cx="279.5" cy="802.6" r="2.5" fill="#6e1232"/><circle cx="285.1" cy="802.6" r="2.5" fill="#6e1232"/><circle cx="290.6" cy="802.6" r="2.5" fill="#6e1232"/><circle cx="296.2" cy="802.6" r="2.5" fill="#6e1232"/><circle cx="301.8" cy="802.6" r="2.5" fill="#6e1232"/><circle cx="307.4" cy="802.6" r="2.5" fill="#6e1232"/><circle cx="312.9" cy="802.6" r="2.5" fill="#6e1232"/><circle cx="318.5" cy="802.6" r="2.5" fill="#6e1232"/><circle cx="324.1" cy="802.6" r="2.5" fill="#6e1232"/><circle cx="329.7" cy="802.6" r="2.5" fill="#6e1232"/><circle cx="335.3" cy="802.6" r="2.5" fill="#6e1232"/><circle cx="340.8" cy="802.6" r="2.5" fill="#6e1232"/><circle cx="346.4" cy="802.6" r="2.5" fill="#6e1232"/><circle cx="352.0" cy="802.6" r="2.5" fill="#6e1232"/><circle cx="357.6" cy="802.6" r="2.5" fill="#6e1232"/><circle cx="363.2" cy="802.6" r="2.5" fill="#6e1232"/><circle cx="368.7" cy="802.6" r="2.5" fill="#6e1232"/><circle cx="374.3" cy="802.6" r="2.5" fill="#6e1232"/><circle cx="379.9" cy="802.6" r="2.5" fill="#6e1232"/><circle cx="385.5" cy="802.6" r="2.5" fill="#6e1232"/><circle cx="391.0" cy="802.6" r="2.5" fill="#6e1232"/><circle cx="396.6" cy="802.6" r="2.5" fill="#6e1232"/><circle cx="402.2" cy="802.6" r="2.5" fill="#6e1232"/><circle cx="407.8" cy="802.6" r="2.5" fill="#6e1232"/><circle cx="413.4" cy="802.6" r="2.5" fill="#6e1232"/><circle cx="418.9" cy="802.6" r="2.5" fill="#6e1232"/><circle cx="424.5" cy="802.6" r="2.5" fill="#6e1232"/><circle cx="430.1" cy="802.6" r="2.5" fill="#6e1232"/><circle cx="435.7" cy="802.6" r="2.5" fill="#6e1232"/><circle cx="441.3" cy="802.6" r="2.5" fill="#6e1232"/><circle cx="446.8" cy="802.6" r="2.5" fill="#6e1232"/><circle cx="452.4" cy="802.6" r="2.5" fill="#6e1232"/><circle cx="458.0" cy="802.6" r="2.5" fill="#6e1232"/><circle cx="463.6" cy="802.6" r="2.5" fill="#6e1232"/><circle cx="469.1" cy="802.6" r="2.5" fill="#6e1232"/><circle cx="474.7" cy="802.6" r="2.5" fill="#6e1232"/><circle cx="480.3" cy="802.6" r="2.5" fill="#6e1232"/><circle cx="485.9" cy="802.6" r="2.5" fill="#6e1232"/><circle cx="491.5" cy="802.6" r="2.5" fill="#6e1232"/><circle cx="497.0" cy="802.6" r="2.5" fill="#6e1232"/><circle cx="502.6" cy="802.6" r="2.5" fill="#6e1232"/><circle cx="508.2" cy="802.6" r="2.5" fill="#6e1232"/></g><line x1="391" y1="504.3" x2="431" y2="504.3" stroke="#7a3838" stroke-width="1.9"/><path d="M411.5 499.1L416.7 504.3L411.5 509.5L406.3 504.3Z" fill="#8b0000" stroke="#5a0000" stroke-width="0.7"/><text x="436.5" y="509.2" class="lg">WT</text><line x1="391" y1="526.2" x2="431" y2="526.2" stroke="#d88070" stroke-width="1.9"/><path d="M411.5 520.5L416.3 529.1L406.7 529.1Z" fill="#f25c3a" stroke="#c23a20" stroke-width="0.7"/><text x="436.5" y="531.1" class="lg">V17M</text><line x1="391" y1="548.1" x2="431" y2="548.1" stroke="#d860d8" stroke-width="1.9"/><path d="M411.5 542.4L416.3 551.0L406.7 551.0Z" fill="#ff00ff" stroke="#c000c0" stroke-width="0.7"/><text x="436.5" y="553.0" class="lg">I16L</text><line x1="391" y1="570.0" x2="431" y2="570.0" stroke="#b0a868" stroke-width="1.9"/><path d="M411.5 564.3L416.3 572.9L406.7 572.9Z" fill="#808000" stroke="#5a5a00" stroke-width="0.7"/><text x="436.5" y="574.9" class="lg">V17T</text><line x1="391" y1="591.9" x2="431" y2="591.9" stroke="#68a468" stroke-width="1.9"/><path d="M411.5 586.2L416.3 594.8L406.7 594.8Z" fill="#008000" stroke="#005a00" stroke-width="0.7"/><text x="436.5" y="596.8" class="lg">I16M</text><line x1="391" y1="613.8" x2="431" y2="613.8" stroke="#5c9c9c" stroke-width="1.9"/><path d="M411.5 608.1L416.3 616.7L406.7 616.7Z" fill="#008080" stroke="#005a5a" stroke-width="0.7"/><text x="436.5" y="618.7" class="lg">V17S</text><line x1="391" y1="635.7" x2="431" y2="635.7" stroke="#78f0f0" stroke-width="1.9"/><path d="M411.5 630.0L416.3 638.6L406.7 638.6Z" fill="#00ffff" stroke="#00c8d8" stroke-width="0.7"/><text x="436.5" y="640.6" class="lg">I16T</text><line x1="391" y1="657.6" x2="431" y2="657.6" stroke="#a85878" stroke-width="1.9"/><path d="M411.5 651.9L416.3 660.5L406.7 660.5Z" fill="#8b1e46" stroke="#5a1030" stroke-width="0.7"/><text x="436.5" y="662.5" class="lg">FIX-DP</text><text x="261" y="554.5" class="fv">+ Factor Va</text><text x="0.5" y="22.2" class="pl">A</text><text x="-0.3" y="463.3" class="pl">B</text><text x="298.5" y="416.8" text-anchor="middle" class="at">Time (min)</text><text x="306" y="864" text-anchor="middle" class="at">Time (min)</text><text transform="translate(19,173.6) rotate(-90)" text-anchor="middle" class="at" style="font-size:21.2px">[Thrombin] (nM)</text><text transform="translate(31.5,626.2) rotate(-90)" text-anchor="middle" class="at" style="font-size:20.6px">[Thrombin] (nM)</text>
</svg></body></html>
